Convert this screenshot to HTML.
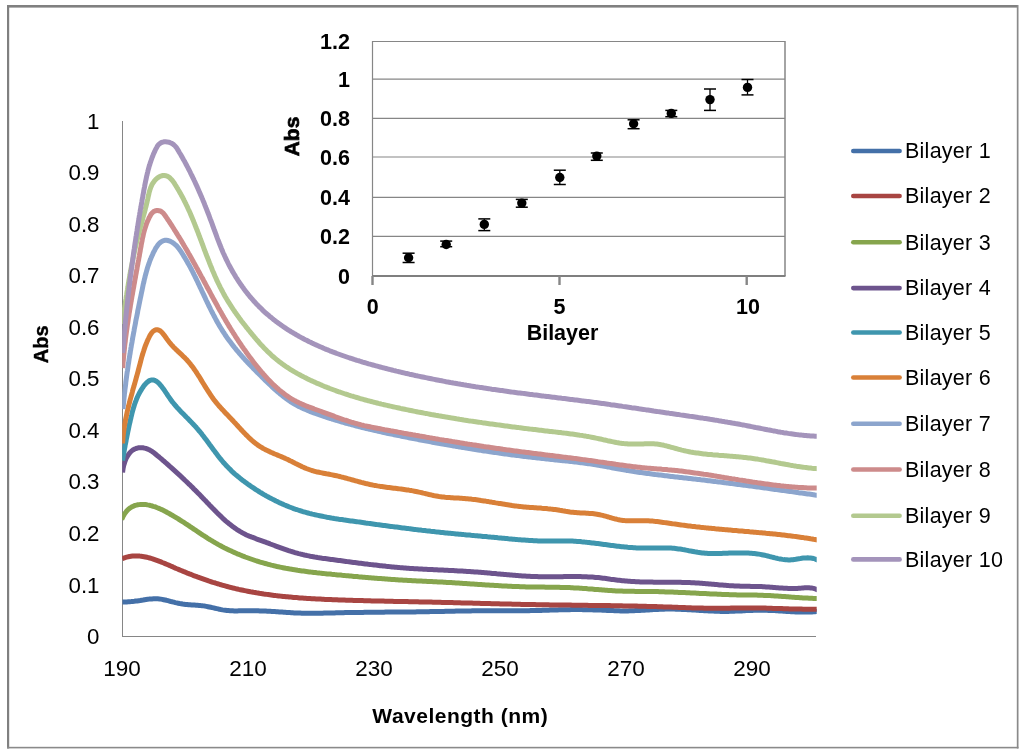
<!DOCTYPE html>
<html><head><meta charset="utf-8"><title>Chart</title>
<style>html,body{margin:0;padding:0;background:#fff;}body{width:1024px;height:752px;overflow:hidden;font-family:"Liberation Sans",sans-serif;}svg{display:block;will-change:transform;}</style>
</head><body>
<svg width="1024" height="752" viewBox="0 0 1024 752">
<defs><clipPath id="pa"><rect x="122.2" y="100" width="694.5" height="537"/></clipPath></defs>
<rect x="0" y="0" width="1024" height="752" fill="#fff"/>
<rect x="7" y="5" width="1011" height="2.6" fill="#808080"/>
<rect x="7" y="5" width="2.2" height="743.5" fill="#808080"/>
<rect x="1016.8" y="5" width="1.7" height="743.5" fill="#8a8a8a"/>
<rect x="7" y="746.8" width="1011.5" height="1.6" fill="#8a8a8a"/>
<line x1="122.5" y1="121" x2="122.5" y2="636.5" stroke="#868686" stroke-width="1"/>
<line x1="122" y1="636.5" x2="816" y2="636.5" stroke="#868686" stroke-width="1"/>
<text x="99.5" y="644.0" text-anchor="end" font-size="22.3" font-family="Liberation Sans, sans-serif" fill="#000">0</text>
<text x="99.5" y="592.5" text-anchor="end" font-size="22.3" font-family="Liberation Sans, sans-serif" fill="#000">0.1</text>
<text x="99.5" y="540.9" text-anchor="end" font-size="22.3" font-family="Liberation Sans, sans-serif" fill="#000">0.2</text>
<text x="99.5" y="489.4" text-anchor="end" font-size="22.3" font-family="Liberation Sans, sans-serif" fill="#000">0.3</text>
<text x="99.5" y="437.8" text-anchor="end" font-size="22.3" font-family="Liberation Sans, sans-serif" fill="#000">0.4</text>
<text x="99.5" y="386.2" text-anchor="end" font-size="22.3" font-family="Liberation Sans, sans-serif" fill="#000">0.5</text>
<text x="99.5" y="334.7" text-anchor="end" font-size="22.3" font-family="Liberation Sans, sans-serif" fill="#000">0.6</text>
<text x="99.5" y="283.2" text-anchor="end" font-size="22.3" font-family="Liberation Sans, sans-serif" fill="#000">0.7</text>
<text x="99.5" y="231.6" text-anchor="end" font-size="22.3" font-family="Liberation Sans, sans-serif" fill="#000">0.8</text>
<text x="99.5" y="180.1" text-anchor="end" font-size="22.3" font-family="Liberation Sans, sans-serif" fill="#000">0.9</text>
<text x="99.5" y="128.5" text-anchor="end" font-size="22.3" font-family="Liberation Sans, sans-serif" fill="#000">1</text>
<text x="122.0" y="676.3" text-anchor="middle" font-size="22.5" font-family="Liberation Sans, sans-serif" fill="#000">190</text>
<text x="248.0" y="676.3" text-anchor="middle" font-size="22.5" font-family="Liberation Sans, sans-serif" fill="#000">210</text>
<text x="374.0" y="676.3" text-anchor="middle" font-size="22.5" font-family="Liberation Sans, sans-serif" fill="#000">230</text>
<text x="500.0" y="676.3" text-anchor="middle" font-size="22.5" font-family="Liberation Sans, sans-serif" fill="#000">250</text>
<text x="626.0" y="676.3" text-anchor="middle" font-size="22.5" font-family="Liberation Sans, sans-serif" fill="#000">270</text>
<text x="752.0" y="676.3" text-anchor="middle" font-size="22.5" font-family="Liberation Sans, sans-serif" fill="#000">290</text>
<text x="460.3" y="722.8" text-anchor="middle" font-size="21" letter-spacing="0.5" font-weight="bold" font-family="Liberation Sans, sans-serif" fill="#000">Wavelength (nm)</text>
<text transform="translate(47.5,344.3) rotate(-90)" x="0" y="0" text-anchor="middle" font-size="20" font-weight="bold" font-family="Liberation Sans, sans-serif" fill="#000" stroke="#000" stroke-width="0.4">Abs</text>
<g clip-path="url(#pa)" fill="none" stroke-width="5.0" stroke-linejoin="round" stroke-linecap="butt">
<path d="M122.3 601.9 L123.8 601.9 L125.3 601.9 L126.8 601.9 L128.3 601.8 L129.8 601.7 L131.3 601.6 L132.8 601.4 L134.2 601.3 L135.7 601.1 L137.2 600.9 L138.7 600.7 L140.2 600.5 L141.7 600.2 L143.1 600.0 L144.6 599.7 L146.1 599.5 L147.6 599.3 L149.0 599.1 L150.5 599.0 L152.0 598.9 L153.4 598.8 L154.9 598.8 L156.3 598.8 L157.8 598.8 L159.3 598.9 L160.7 599.1 L162.2 599.4 L163.6 599.7 L165.1 600.0 L166.5 600.3 L168.0 600.7 L169.4 601.1 L170.9 601.5 L172.3 601.8 L173.8 602.2 L175.3 602.6 L176.7 602.9 L178.2 603.2 L179.7 603.5 L181.2 603.7 L182.6 604.0 L184.1 604.2 L185.6 604.4 L187.1 604.5 L188.6 604.7 L190.1 604.8 L191.6 604.9 L193.1 605.0 L194.6 605.1 L196.0 605.2 L197.5 605.3 L199.0 605.4 L200.5 605.6 L202.0 605.7 L203.4 605.9 L204.9 606.1 L206.4 606.4 L207.9 606.7 L209.3 607.0 L210.8 607.3 L212.2 607.6 L213.7 607.9 L215.1 608.3 L216.6 608.6 L218.1 608.9 L219.5 609.3 L221.0 609.6 L222.5 609.9 L223.9 610.1 L225.4 610.3 L226.9 610.5 L228.4 610.6 L229.9 610.7 L231.3 610.8 L232.8 610.8 L234.3 610.9 L235.8 610.9 L237.3 610.9 L238.8 610.8 L240.3 610.8 L241.8 610.8 L243.3 610.8 L244.8 610.8 L246.3 610.8 L247.8 610.8 L249.3 610.7 L250.8 610.8 L252.3 610.8 L253.8 610.8 L255.3 610.8 L256.8 610.8 L258.3 610.8 L259.8 610.9 L261.3 610.9 L262.8 611.0 L264.3 611.0 L265.8 611.1 L267.3 611.2 L268.8 611.2 L270.3 611.3 L271.8 611.4 L273.3 611.5 L274.8 611.6 L276.3 611.7 L277.8 611.8 L279.2 611.9 L280.7 612.0 L282.2 612.1 L283.7 612.2 L285.2 612.3 L286.7 612.4 L288.2 612.5 L289.7 612.6 L291.2 612.7 L292.7 612.8 L294.2 612.9 L295.7 613.0 L297.2 613.0 L298.7 613.1 L300.2 613.1 L301.7 613.2 L303.2 613.2 L304.7 613.2 L306.2 613.3 L307.7 613.3 L309.2 613.3 L310.6 613.3 L312.1 613.3 L313.6 613.3 L315.1 613.3 L316.6 613.3 L318.1 613.2 L319.6 613.2 L321.1 613.2 L322.6 613.2 L324.1 613.1 L325.6 613.1 L327.1 613.1 L328.6 613.0 L330.1 613.0 L331.6 612.9 L333.1 612.9 L334.6 612.9 L336.1 612.8 L337.6 612.8 L339.1 612.8 L340.6 612.7 L342.1 612.7 L343.6 612.7 L345.1 612.6 L346.6 612.6 L348.1 612.6 L349.6 612.6 L351.1 612.5 L352.6 612.5 L354.1 612.5 L355.6 612.5 L357.1 612.4 L358.6 612.4 L360.1 612.4 L361.6 612.4 L363.1 612.4 L364.5 612.3 L366.0 612.3 L367.5 612.3 L369.0 612.3 L370.5 612.3 L372.0 612.3 L373.5 612.2 L375.0 612.2 L376.5 612.2 L378.0 612.2 L379.5 612.2 L381.0 612.2 L382.5 612.2 L384.0 612.2 L385.5 612.1 L387.0 612.1 L388.5 612.1 L390.0 612.1 L391.5 612.1 L393.0 612.1 L394.5 612.1 L396.0 612.1 L397.5 612.0 L399.0 612.0 L400.5 612.0 L402.0 612.0 L403.5 612.0 L405.0 612.0 L406.5 612.0 L408.0 611.9 L409.5 611.9 L411.0 611.9 L412.4 611.9 L413.9 611.9 L415.4 611.9 L416.9 611.8 L418.4 611.8 L419.9 611.8 L421.4 611.8 L422.9 611.8 L424.4 611.7 L425.9 611.7 L427.4 611.7 L428.9 611.7 L430.4 611.6 L431.9 611.6 L433.4 611.6 L434.9 611.6 L436.4 611.5 L437.9 611.5 L439.4 611.5 L440.9 611.4 L442.4 611.4 L443.9 611.4 L445.4 611.3 L446.9 611.3 L448.4 611.3 L449.9 611.2 L451.4 611.2 L452.9 611.2 L454.4 611.2 L455.9 611.1 L457.3 611.1 L458.8 611.1 L460.3 611.0 L461.8 611.0 L463.3 611.0 L464.8 610.9 L466.3 610.9 L467.8 610.9 L469.3 610.9 L470.8 610.9 L472.3 610.8 L473.8 610.8 L475.3 610.8 L476.8 610.8 L478.3 610.8 L479.8 610.7 L481.3 610.7 L482.8 610.7 L484.3 610.7 L485.8 610.7 L487.3 610.7 L488.8 610.7 L490.3 610.7 L491.8 610.7 L493.3 610.7 L494.8 610.7 L496.3 610.7 L497.8 610.7 L499.3 610.7 L500.8 610.7 L502.3 610.7 L503.8 610.7 L505.3 610.7 L506.7 610.7 L508.2 610.7 L509.7 610.7 L511.2 610.8 L512.7 610.8 L514.2 610.8 L515.7 610.8 L517.2 610.8 L518.7 610.8 L520.2 610.7 L521.7 610.7 L523.2 610.7 L524.7 610.7 L526.2 610.7 L527.7 610.7 L529.2 610.7 L530.7 610.6 L532.2 610.6 L533.7 610.6 L535.2 610.6 L536.7 610.5 L538.2 610.5 L539.7 610.4 L541.2 610.4 L542.7 610.3 L544.2 610.3 L545.7 610.3 L547.2 610.2 L548.7 610.2 L550.2 610.1 L551.7 610.1 L553.2 610.0 L554.7 610.0 L556.1 609.9 L557.6 609.9 L559.1 609.8 L560.6 609.8 L562.1 609.8 L563.6 609.7 L565.1 609.7 L566.6 609.7 L568.1 609.7 L569.6 609.7 L571.1 609.6 L572.6 609.6 L574.1 609.6 L575.6 609.6 L577.1 609.6 L578.6 609.6 L580.1 609.6 L581.6 609.6 L583.1 609.7 L584.6 609.7 L586.1 609.7 L587.6 609.7 L589.1 609.7 L590.6 609.8 L592.1 609.8 L593.6 609.9 L595.1 609.9 L596.6 610.0 L598.1 610.0 L599.6 610.1 L601.1 610.1 L602.6 610.2 L604.1 610.3 L605.6 610.3 L607.1 610.4 L608.6 610.5 L610.0 610.5 L611.5 610.6 L613.0 610.6 L614.5 610.7 L616.0 610.7 L617.5 610.8 L619.0 610.8 L620.5 610.9 L622.0 610.9 L623.5 610.9 L625.0 610.9 L626.5 610.9 L628.0 610.9 L629.5 610.8 L631.0 610.8 L632.5 610.8 L634.0 610.7 L635.5 610.6 L637.0 610.6 L638.5 610.5 L640.0 610.4 L641.5 610.3 L643.0 610.3 L644.5 610.2 L646.0 610.1 L647.5 610.0 L648.9 609.9 L650.4 609.8 L651.9 609.7 L653.4 609.6 L654.9 609.6 L656.4 609.5 L657.9 609.4 L659.4 609.3 L660.9 609.3 L662.4 609.2 L663.9 609.2 L665.4 609.1 L666.9 609.1 L668.4 609.1 L669.9 609.1 L671.4 609.1 L672.9 609.1 L674.4 609.1 L675.9 609.2 L677.4 609.2 L678.9 609.3 L680.4 609.3 L681.9 609.4 L683.4 609.4 L684.8 609.5 L686.3 609.6 L687.8 609.7 L689.3 609.8 L690.8 609.8 L692.3 609.9 L693.8 610.0 L695.3 610.1 L696.8 610.2 L698.3 610.3 L699.8 610.4 L701.3 610.5 L702.8 610.6 L704.3 610.7 L705.8 610.8 L707.3 610.8 L708.8 610.9 L710.3 611.0 L711.8 611.1 L713.3 611.1 L714.8 611.2 L716.3 611.3 L717.8 611.3 L719.3 611.3 L720.8 611.4 L722.3 611.4 L723.8 611.4 L725.2 611.4 L726.7 611.4 L728.2 611.4 L729.7 611.3 L731.2 611.3 L732.7 611.3 L734.2 611.2 L735.7 611.1 L737.2 611.1 L738.7 611.0 L740.2 610.9 L741.7 610.9 L743.2 610.8 L744.7 610.7 L746.2 610.6 L747.7 610.6 L749.2 610.5 L750.7 610.4 L752.2 610.4 L753.7 610.3 L755.2 610.3 L756.7 610.3 L758.2 610.2 L759.7 610.2 L761.2 610.2 L762.7 610.2 L764.2 610.2 L765.7 610.3 L767.1 610.3 L768.6 610.4 L770.1 610.4 L771.6 610.5 L773.1 610.6 L774.6 610.6 L776.1 610.7 L777.6 610.8 L779.1 610.9 L780.6 611.0 L782.1 611.1 L783.6 611.2 L785.1 611.3 L786.6 611.4 L788.1 611.5 L789.6 611.6 L791.1 611.7 L792.6 611.8 L794.1 611.8 L795.6 611.9 L797.1 612.0 L798.6 612.0 L800.1 612.0 L801.6 612.1 L803.0 612.1 L804.5 612.1 L806.0 612.1 L807.5 612.1 L809.0 612.0 L810.5 612.0 L812.0 611.9 L813.5 611.8 L815.0 611.7 L816.5 611.6 L818.0 611.4" stroke="#4470A8"/>
<path d="M122.1 558.7 L123.6 558.1 L125.1 557.6 L126.6 557.2 L128.1 556.8 L129.6 556.5 L131.0 556.3 L132.5 556.1 L134.0 556.0 L135.4 556.0 L136.9 556.0 L138.3 556.0 L139.8 556.1 L141.2 556.3 L142.6 556.5 L144.1 556.7 L145.5 557.0 L146.9 557.3 L148.3 557.6 L149.7 558.0 L151.1 558.4 L152.6 558.8 L154.0 559.3 L155.4 559.8 L156.8 560.3 L158.2 560.8 L159.5 561.3 L160.9 561.9 L162.3 562.5 L163.7 563.0 L165.1 563.6 L166.5 564.2 L167.9 564.8 L169.3 565.4 L170.7 566.0 L172.1 566.6 L173.5 567.3 L174.9 567.9 L176.2 568.5 L177.6 569.0 L179.0 569.6 L180.4 570.2 L181.8 570.8 L183.2 571.4 L184.6 571.9 L186.0 572.5 L187.4 573.1 L188.8 573.6 L190.2 574.2 L191.6 574.7 L193.0 575.3 L194.4 575.8 L195.9 576.3 L197.3 576.9 L198.7 577.4 L200.1 577.9 L201.5 578.4 L202.9 578.9 L204.3 579.4 L205.8 579.9 L207.2 580.4 L208.6 580.9 L210.0 581.3 L211.4 581.8 L212.9 582.3 L214.3 582.7 L215.7 583.2 L217.1 583.6 L218.6 584.0 L220.0 584.5 L221.4 584.9 L222.9 585.3 L224.3 585.7 L225.8 586.1 L227.2 586.5 L228.6 586.9 L230.1 587.3 L231.5 587.6 L233.0 588.0 L234.4 588.3 L235.9 588.7 L237.3 589.0 L238.8 589.4 L240.3 589.7 L241.7 590.0 L243.2 590.3 L244.6 590.6 L246.1 590.9 L247.6 591.2 L249.0 591.5 L250.5 591.8 L252.0 592.0 L253.4 592.3 L254.9 592.5 L256.4 592.8 L257.9 593.0 L259.3 593.3 L260.8 593.5 L262.3 593.7 L263.8 594.0 L265.3 594.2 L266.7 594.4 L268.2 594.6 L269.7 594.8 L271.2 595.0 L272.7 595.2 L274.2 595.4 L275.7 595.6 L277.1 595.7 L278.6 595.9 L280.1 596.1 L281.6 596.2 L283.1 596.4 L284.6 596.5 L286.1 596.7 L287.6 596.8 L289.1 597.0 L290.6 597.1 L292.1 597.2 L293.6 597.4 L295.1 597.5 L296.6 597.6 L298.1 597.7 L299.6 597.9 L301.1 598.0 L302.6 598.1 L304.1 598.2 L305.6 598.3 L307.1 598.4 L308.6 598.5 L310.1 598.6 L311.6 598.7 L313.1 598.7 L314.6 598.8 L316.1 598.9 L317.6 599.0 L319.1 599.1 L320.6 599.1 L322.1 599.2 L323.6 599.3 L325.1 599.4 L326.6 599.4 L328.1 599.5 L329.6 599.5 L331.1 599.6 L332.6 599.7 L334.1 599.7 L335.6 599.8 L337.1 599.8 L338.6 599.9 L340.1 600.0 L341.6 600.0 L343.1 600.1 L344.6 600.1 L346.1 600.2 L347.6 600.2 L349.1 600.3 L350.6 600.3 L352.1 600.3 L353.6 600.4 L355.1 600.4 L356.6 600.5 L358.1 600.5 L359.6 600.6 L361.1 600.6 L362.6 600.6 L364.1 600.7 L365.6 600.7 L367.1 600.8 L368.6 600.8 L370.1 600.8 L371.6 600.9 L373.1 600.9 L374.6 600.9 L376.1 601.0 L377.6 601.0 L379.1 601.0 L380.6 601.1 L382.0 601.1 L383.5 601.1 L385.0 601.2 L386.5 601.2 L388.0 601.2 L389.5 601.3 L391.0 601.3 L392.5 601.3 L394.0 601.4 L395.5 601.4 L397.0 601.4 L398.5 601.4 L400.0 601.5 L401.5 601.5 L403.0 601.5 L404.5 601.6 L406.0 601.6 L407.5 601.6 L409.0 601.7 L410.5 601.7 L412.0 601.7 L413.5 601.7 L415.0 601.8 L416.5 601.8 L417.9 601.8 L419.4 601.9 L420.9 601.9 L422.4 601.9 L423.9 602.0 L425.4 602.0 L426.9 602.0 L428.4 602.1 L429.9 602.1 L431.4 602.1 L432.9 602.2 L434.4 602.2 L435.9 602.2 L437.4 602.3 L438.9 602.3 L440.4 602.3 L441.9 602.4 L443.4 602.4 L444.9 602.4 L446.4 602.5 L447.9 602.5 L449.4 602.6 L450.9 602.6 L452.4 602.6 L453.9 602.7 L455.4 602.7 L456.9 602.8 L458.4 602.8 L459.9 602.8 L461.4 602.9 L462.9 602.9 L464.4 602.9 L465.9 603.0 L467.4 603.0 L468.9 603.1 L470.4 603.1 L471.9 603.1 L473.4 603.2 L474.9 603.2 L476.4 603.3 L477.9 603.3 L479.4 603.3 L480.9 603.4 L482.4 603.4 L483.9 603.5 L485.4 603.5 L486.9 603.5 L488.4 603.6 L489.9 603.6 L491.4 603.7 L492.9 603.7 L494.4 603.7 L495.9 603.8 L497.4 603.8 L498.9 603.8 L500.4 603.9 L501.9 603.9 L503.4 604.0 L504.9 604.0 L506.4 604.0 L507.9 604.1 L509.4 604.1 L510.9 604.1 L512.4 604.2 L513.9 604.2 L515.4 604.2 L516.9 604.3 L518.4 604.3 L519.9 604.3 L521.4 604.4 L522.9 604.4 L524.4 604.4 L525.9 604.5 L527.4 604.5 L528.9 604.5 L530.4 604.5 L531.9 604.6 L533.4 604.6 L534.9 604.6 L536.4 604.7 L537.9 604.7 L539.4 604.7 L540.9 604.7 L542.4 604.8 L543.9 604.8 L545.4 604.8 L546.9 604.8 L548.4 604.8 L549.9 604.9 L551.4 604.9 L552.9 604.9 L554.4 604.9 L555.9 605.0 L557.3 605.0 L558.8 605.0 L560.3 605.0 L561.8 605.0 L563.3 605.0 L564.8 605.1 L566.3 605.1 L567.8 605.1 L569.3 605.1 L570.8 605.1 L572.3 605.2 L573.8 605.2 L575.3 605.2 L576.8 605.2 L578.3 605.2 L579.8 605.3 L581.3 605.3 L582.8 605.3 L584.3 605.3 L585.8 605.3 L587.3 605.3 L588.8 605.4 L590.3 605.4 L591.8 605.4 L593.3 605.4 L594.8 605.4 L596.3 605.5 L597.8 605.5 L599.3 605.5 L600.8 605.5 L602.3 605.5 L603.8 605.6 L605.3 605.6 L606.8 605.6 L608.3 605.6 L609.8 605.6 L611.3 605.7 L612.8 605.7 L614.3 605.7 L615.8 605.7 L617.3 605.8 L618.8 605.8 L620.3 605.8 L621.8 605.8 L623.3 605.9 L624.8 605.9 L626.3 605.9 L627.8 605.9 L629.3 606.0 L630.8 606.0 L632.3 606.0 L633.8 606.1 L635.3 606.1 L636.8 606.1 L638.3 606.2 L639.8 606.2 L641.3 606.2 L642.8 606.3 L644.3 606.3 L645.8 606.3 L647.3 606.4 L648.8 606.4 L650.3 606.5 L651.8 606.5 L653.3 606.5 L654.8 606.6 L656.3 606.6 L657.7 606.7 L659.2 606.7 L660.7 606.8 L662.2 606.8 L663.7 606.9 L665.2 606.9 L666.7 607.0 L668.2 607.0 L669.7 607.1 L671.2 607.1 L672.7 607.2 L674.2 607.2 L675.7 607.3 L677.2 607.3 L678.7 607.4 L680.2 607.4 L681.7 607.5 L683.2 607.5 L684.7 607.6 L686.2 607.7 L687.7 607.7 L689.2 607.8 L690.7 607.8 L692.2 607.9 L693.7 607.9 L695.2 607.9 L696.7 608.0 L698.2 608.0 L699.7 608.1 L701.2 608.1 L702.7 608.1 L704.2 608.2 L705.7 608.2 L707.2 608.2 L708.7 608.2 L710.2 608.3 L711.7 608.3 L713.1 608.3 L714.6 608.3 L716.1 608.3 L717.6 608.3 L719.1 608.3 L720.6 608.3 L722.1 608.3 L723.6 608.2 L725.1 608.2 L726.6 608.2 L728.1 608.2 L729.6 608.2 L731.1 608.1 L732.6 608.1 L734.1 608.1 L735.6 608.1 L737.1 608.0 L738.6 608.0 L740.1 608.0 L741.6 608.0 L743.1 608.0 L744.6 607.9 L746.1 607.9 L747.6 607.9 L749.1 607.9 L750.6 607.9 L752.1 607.9 L753.6 607.9 L755.1 608.0 L756.6 608.0 L758.1 608.0 L759.6 608.0 L761.0 608.0 L762.5 608.1 L764.0 608.1 L765.5 608.1 L767.0 608.2 L768.5 608.2 L770.0 608.3 L771.5 608.3 L773.0 608.4 L774.5 608.4 L776.0 608.4 L777.5 608.5 L779.0 608.5 L780.5 608.6 L782.0 608.6 L783.5 608.7 L785.0 608.7 L786.5 608.8 L788.0 608.8 L789.5 608.9 L791.0 608.9 L792.5 608.9 L794.0 609.0 L795.5 609.0 L797.0 609.1 L798.5 609.1 L800.0 609.1 L801.5 609.1 L803.0 609.2 L804.5 609.2 L806.0 609.2 L807.5 609.2 L809.0 609.2 L810.5 609.2 L812.0 609.2 L813.5 609.2 L815.0 609.2 L816.5 609.2 L818.0 609.2" stroke="#A84542"/>
<path d="M121.7 519.5 L122.5 517.8 L123.2 516.1 L124.1 514.6 L125.0 513.2 L126.0 511.9 L127.0 510.7 L128.0 509.6 L129.1 508.7 L130.3 507.8 L131.5 507.1 L132.7 506.5 L133.9 505.9 L135.2 505.4 L136.5 505.1 L137.8 504.8 L139.2 504.6 L140.6 504.4 L141.9 504.4 L143.3 504.4 L144.7 504.5 L146.1 504.6 L147.5 504.9 L148.9 505.1 L150.4 505.5 L151.8 505.8 L153.2 506.3 L154.6 506.7 L156.0 507.2 L157.4 507.8 L158.9 508.4 L160.3 509.0 L161.7 509.6 L163.1 510.3 L164.5 511.0 L165.9 511.7 L167.2 512.5 L168.6 513.2 L170.0 514.0 L171.3 514.8 L172.6 515.5 L174.0 516.3 L175.3 517.1 L176.6 517.9 L177.9 518.7 L179.2 519.5 L180.5 520.3 L181.7 521.1 L183.0 521.9 L184.3 522.7 L185.5 523.6 L186.8 524.4 L188.0 525.2 L189.3 526.0 L190.5 526.9 L191.7 527.7 L193.0 528.5 L194.2 529.4 L195.5 530.2 L196.7 531.0 L197.9 531.8 L199.1 532.7 L200.4 533.5 L201.6 534.3 L202.8 535.1 L204.1 535.9 L205.3 536.7 L206.6 537.5 L207.8 538.3 L209.1 539.1 L210.3 539.9 L211.6 540.6 L212.9 541.4 L214.1 542.1 L215.4 542.9 L216.7 543.6 L218.0 544.4 L219.3 545.1 L220.6 545.8 L221.9 546.5 L223.3 547.2 L224.6 547.9 L225.9 548.5 L227.3 549.2 L228.6 549.9 L230.0 550.5 L231.3 551.1 L232.7 551.8 L234.1 552.4 L235.5 553.0 L236.8 553.6 L238.2 554.2 L239.6 554.7 L241.0 555.3 L242.4 555.9 L243.8 556.4 L245.2 557.0 L246.7 557.5 L248.1 558.0 L249.5 558.5 L250.9 559.0 L252.4 559.5 L253.8 560.0 L255.2 560.5 L256.7 561.0 L258.1 561.4 L259.5 561.9 L261.0 562.3 L262.4 562.7 L263.9 563.1 L265.3 563.5 L266.8 563.9 L268.2 564.3 L269.7 564.7 L271.2 565.1 L272.6 565.4 L274.1 565.8 L275.5 566.1 L277.0 566.5 L278.5 566.8 L279.9 567.1 L281.4 567.4 L282.9 567.7 L284.3 568.0 L285.8 568.3 L287.3 568.5 L288.7 568.8 L290.2 569.1 L291.7 569.3 L293.1 569.6 L294.6 569.8 L296.1 570.0 L297.6 570.3 L299.0 570.5 L300.5 570.7 L302.0 570.9 L303.5 571.1 L304.9 571.3 L306.4 571.5 L307.9 571.7 L309.4 571.9 L310.9 572.1 L312.3 572.2 L313.8 572.4 L315.3 572.6 L316.8 572.8 L318.3 572.9 L319.8 573.1 L321.2 573.2 L322.7 573.4 L324.2 573.6 L325.7 573.7 L327.2 573.9 L328.7 574.0 L330.2 574.1 L331.7 574.3 L333.1 574.4 L334.6 574.6 L336.1 574.7 L337.6 574.9 L339.1 575.0 L340.6 575.1 L342.1 575.3 L343.6 575.4 L345.1 575.6 L346.6 575.7 L348.1 575.8 L349.6 576.0 L351.1 576.1 L352.5 576.2 L354.0 576.4 L355.5 576.5 L357.0 576.6 L358.5 576.8 L360.0 576.9 L361.5 577.0 L363.0 577.2 L364.5 577.3 L366.0 577.4 L367.5 577.5 L369.0 577.7 L370.5 577.8 L372.0 577.9 L373.5 578.0 L375.0 578.2 L376.5 578.3 L378.0 578.4 L379.5 578.5 L381.0 578.6 L382.5 578.7 L384.0 578.8 L385.5 579.0 L387.0 579.1 L388.5 579.2 L390.0 579.3 L391.5 579.4 L393.0 579.5 L394.5 579.6 L396.0 579.7 L397.4 579.8 L398.9 579.9 L400.4 580.0 L401.9 580.1 L403.4 580.2 L404.9 580.2 L406.4 580.3 L407.9 580.4 L409.4 580.5 L410.9 580.6 L412.4 580.7 L413.9 580.7 L415.4 580.8 L416.9 580.9 L418.4 581.0 L419.9 581.0 L421.4 581.1 L422.9 581.2 L424.4 581.3 L425.9 581.3 L427.4 581.4 L428.9 581.5 L430.4 581.6 L431.9 581.6 L433.3 581.7 L434.8 581.8 L436.3 581.8 L437.8 581.9 L439.3 582.0 L440.8 582.1 L442.3 582.1 L443.8 582.2 L445.3 582.3 L446.8 582.4 L448.3 582.5 L449.8 582.6 L451.3 582.6 L452.8 582.7 L454.3 582.8 L455.8 582.9 L457.3 583.0 L458.8 583.1 L460.3 583.2 L461.8 583.3 L463.2 583.4 L464.7 583.5 L466.2 583.6 L467.7 583.7 L469.2 583.8 L470.7 583.9 L472.2 584.0 L473.7 584.1 L475.2 584.2 L476.7 584.3 L478.2 584.4 L479.7 584.5 L481.2 584.6 L482.7 584.7 L484.2 584.8 L485.7 584.9 L487.2 585.0 L488.7 585.1 L490.2 585.2 L491.7 585.3 L493.2 585.3 L494.7 585.4 L496.2 585.5 L497.7 585.6 L499.2 585.7 L500.7 585.8 L502.2 585.9 L503.7 586.0 L505.1 586.0 L506.6 586.1 L508.1 586.2 L509.6 586.3 L511.1 586.3 L512.6 586.4 L514.1 586.5 L515.6 586.5 L517.1 586.6 L518.6 586.6 L520.1 586.7 L521.6 586.8 L523.1 586.8 L524.6 586.8 L526.1 586.9 L527.6 586.9 L529.1 586.9 L530.6 587.0 L532.1 587.0 L533.6 587.0 L535.1 587.0 L536.6 587.1 L538.1 587.1 L539.6 587.1 L541.1 587.1 L542.6 587.1 L544.1 587.1 L545.6 587.2 L547.1 587.2 L548.6 587.2 L550.1 587.2 L551.6 587.2 L553.1 587.2 L554.6 587.3 L556.1 587.3 L557.6 587.3 L559.1 587.3 L560.6 587.4 L562.1 587.4 L563.6 587.4 L565.1 587.5 L566.6 587.5 L568.1 587.6 L569.6 587.6 L571.1 587.7 L572.6 587.8 L574.1 587.9 L575.6 587.9 L577.0 588.0 L578.5 588.1 L580.0 588.2 L581.5 588.3 L583.0 588.4 L584.5 588.5 L586.0 588.6 L587.5 588.8 L589.0 588.9 L590.5 589.0 L592.0 589.1 L593.5 589.2 L595.0 589.4 L596.5 589.5 L598.0 589.6 L599.5 589.7 L601.0 589.8 L602.5 590.0 L604.0 590.1 L605.4 590.2 L606.9 590.3 L608.4 590.4 L609.9 590.5 L611.4 590.6 L612.9 590.7 L614.4 590.8 L615.9 590.9 L617.4 590.9 L618.9 591.0 L620.4 591.1 L621.9 591.1 L623.4 591.2 L624.9 591.2 L626.4 591.2 L627.9 591.3 L629.4 591.3 L630.9 591.3 L632.4 591.3 L633.9 591.3 L635.4 591.4 L636.9 591.4 L638.4 591.4 L639.9 591.4 L641.4 591.4 L642.9 591.4 L644.4 591.4 L645.9 591.4 L647.4 591.4 L648.9 591.5 L650.4 591.5 L651.9 591.5 L653.4 591.5 L654.9 591.6 L656.4 591.6 L657.9 591.6 L659.4 591.7 L660.9 591.7 L662.4 591.8 L663.9 591.8 L665.3 591.9 L666.8 591.9 L668.3 592.0 L669.8 592.0 L671.3 592.1 L672.8 592.1 L674.3 592.2 L675.8 592.2 L677.3 592.3 L678.8 592.4 L680.3 592.4 L681.8 592.5 L683.3 592.6 L684.8 592.6 L686.3 592.7 L687.8 592.8 L689.3 592.8 L690.8 592.9 L692.3 593.0 L693.8 593.1 L695.3 593.1 L696.8 593.2 L698.3 593.3 L699.8 593.4 L701.3 593.4 L702.8 593.5 L704.3 593.6 L705.8 593.6 L707.2 593.7 L708.7 593.8 L710.2 593.9 L711.7 593.9 L713.2 594.0 L714.7 594.1 L716.2 594.1 L717.7 594.2 L719.2 594.3 L720.7 594.3 L722.2 594.4 L723.7 594.4 L725.2 594.5 L726.7 594.6 L728.2 594.6 L729.7 594.7 L731.2 594.7 L732.7 594.7 L734.2 594.8 L735.7 594.8 L737.2 594.9 L738.7 594.9 L740.2 594.9 L741.7 594.9 L743.2 595.0 L744.7 595.0 L746.1 595.0 L747.6 595.0 L749.1 595.0 L750.6 595.0 L752.1 595.1 L753.6 595.1 L755.1 595.1 L756.6 595.1 L758.1 595.2 L759.6 595.2 L761.1 595.3 L762.6 595.3 L764.1 595.4 L765.6 595.4 L767.1 595.5 L768.6 595.6 L770.1 595.6 L771.6 595.7 L773.1 595.8 L774.6 595.9 L776.1 596.0 L777.6 596.1 L779.1 596.2 L780.6 596.3 L782.1 596.4 L783.6 596.5 L785.1 596.6 L786.6 596.7 L788.1 596.8 L789.6 596.9 L791.1 597.1 L792.5 597.2 L794.0 597.3 L795.5 597.4 L797.0 597.5 L798.5 597.6 L800.0 597.7 L801.5 597.8 L803.0 597.9 L804.5 598.0 L806.0 598.0 L807.5 598.1 L809.0 598.2 L810.5 598.3 L812.0 598.3 L813.5 598.4 L815.0 598.5 L816.5 598.5 L818.0 598.5" stroke="#86A54D"/>
<path d="M122.6 472.6 L122.7 471.3 L122.9 469.9 L123.1 468.4 L123.4 467.0 L123.7 465.4 L124.2 463.9 L124.7 462.3 L125.2 460.8 L125.8 459.3 L126.5 457.8 L127.3 456.4 L128.2 455.0 L129.1 453.7 L130.0 452.5 L131.1 451.5 L132.2 450.5 L133.4 449.7 L134.7 449.0 L136.0 448.5 L137.3 448.1 L138.7 447.8 L140.1 447.7 L141.5 447.7 L142.9 447.8 L144.3 448.1 L145.7 448.4 L147.1 448.9 L148.5 449.5 L149.8 450.1 L151.1 450.9 L152.4 451.7 L153.6 452.6 L154.8 453.5 L156.0 454.5 L157.2 455.5 L158.4 456.4 L159.5 457.4 L160.7 458.4 L161.9 459.4 L163.0 460.4 L164.2 461.3 L165.3 462.3 L166.5 463.3 L167.6 464.3 L168.7 465.3 L169.8 466.3 L171.0 467.3 L172.1 468.3 L173.2 469.3 L174.3 470.3 L175.4 471.3 L176.5 472.3 L177.6 473.3 L178.7 474.3 L179.8 475.3 L180.9 476.4 L182.0 477.4 L183.0 478.4 L184.1 479.4 L185.2 480.5 L186.3 481.5 L187.3 482.5 L188.4 483.6 L189.5 484.6 L190.5 485.6 L191.6 486.7 L192.7 487.7 L193.7 488.8 L194.8 489.8 L195.8 490.9 L196.9 491.9 L197.9 493.0 L199.0 494.1 L200.0 495.1 L201.1 496.2 L202.1 497.3 L203.2 498.4 L204.2 499.5 L205.3 500.5 L206.3 501.6 L207.3 502.7 L208.4 503.8 L209.4 504.9 L210.5 506.0 L211.5 507.1 L212.6 508.2 L213.7 509.3 L214.7 510.4 L215.8 511.4 L216.8 512.5 L217.9 513.6 L219.0 514.6 L220.1 515.7 L221.2 516.7 L222.3 517.8 L223.4 518.8 L224.5 519.8 L225.6 520.8 L226.8 521.8 L227.9 522.7 L229.0 523.7 L230.2 524.6 L231.4 525.5 L232.6 526.4 L233.8 527.3 L235.0 528.2 L236.2 529.0 L237.4 529.8 L238.7 530.6 L239.9 531.4 L241.2 532.1 L242.5 532.9 L243.8 533.6 L245.1 534.2 L246.5 534.9 L247.8 535.5 L249.2 536.1 L250.6 536.6 L252.0 537.2 L253.4 537.7 L254.8 538.2 L256.2 538.8 L257.6 539.3 L259.0 539.8 L260.5 540.3 L261.9 540.8 L263.3 541.3 L264.7 541.8 L266.1 542.4 L267.5 542.9 L268.9 543.4 L270.3 544.0 L271.7 544.5 L273.1 545.0 L274.5 545.5 L275.9 546.1 L277.3 546.6 L278.7 547.1 L280.1 547.6 L281.5 548.1 L282.9 548.6 L284.3 549.1 L285.8 549.6 L287.2 550.1 L288.6 550.6 L290.0 551.0 L291.4 551.5 L292.8 551.9 L294.3 552.4 L295.7 552.8 L297.1 553.2 L298.6 553.6 L300.0 553.9 L301.5 554.3 L302.9 554.6 L304.4 555.0 L305.8 555.3 L307.3 555.6 L308.8 555.9 L310.2 556.2 L311.7 556.4 L313.2 556.7 L314.7 557.0 L316.2 557.2 L317.6 557.5 L319.1 557.7 L320.6 557.9 L322.1 558.2 L323.6 558.4 L325.1 558.6 L326.6 558.8 L328.1 559.0 L329.5 559.2 L331.0 559.4 L332.5 559.6 L334.0 559.8 L335.5 560.0 L337.0 560.2 L338.5 560.4 L340.0 560.6 L341.5 560.8 L343.0 561.0 L344.5 561.2 L346.0 561.4 L347.4 561.6 L348.9 561.8 L350.4 562.0 L351.9 562.2 L353.4 562.4 L354.9 562.6 L356.4 562.8 L357.9 563.0 L359.3 563.2 L360.8 563.3 L362.3 563.5 L363.8 563.7 L365.3 563.9 L366.8 564.1 L368.3 564.3 L369.8 564.4 L371.2 564.6 L372.7 564.8 L374.2 565.0 L375.7 565.1 L377.2 565.3 L378.7 565.5 L380.2 565.7 L381.6 565.8 L383.1 566.0 L384.6 566.1 L386.1 566.3 L387.6 566.4 L389.1 566.6 L390.6 566.7 L392.1 566.9 L393.6 567.0 L395.0 567.2 L396.5 567.3 L398.0 567.4 L399.5 567.6 L401.0 567.7 L402.5 567.8 L404.0 567.9 L405.5 568.0 L407.0 568.2 L408.5 568.3 L410.0 568.4 L411.5 568.5 L412.9 568.6 L414.4 568.7 L415.9 568.7 L417.4 568.8 L418.9 568.9 L420.4 569.0 L421.9 569.1 L423.4 569.2 L424.9 569.3 L426.4 569.3 L427.9 569.4 L429.4 569.5 L430.9 569.6 L432.4 569.6 L433.9 569.7 L435.4 569.8 L436.9 569.8 L438.4 569.9 L439.9 570.0 L441.4 570.1 L442.9 570.1 L444.4 570.2 L445.9 570.3 L447.4 570.3 L448.9 570.4 L450.4 570.5 L451.9 570.5 L453.4 570.6 L454.9 570.7 L456.4 570.8 L457.9 570.9 L459.4 570.9 L460.9 571.0 L462.4 571.1 L463.9 571.2 L465.4 571.3 L466.9 571.4 L468.4 571.5 L469.9 571.6 L471.4 571.7 L472.9 571.8 L474.4 571.9 L475.9 572.0 L477.4 572.1 L478.9 572.2 L480.4 572.3 L481.9 572.5 L483.4 572.6 L484.9 572.7 L486.4 572.8 L487.8 573.0 L489.3 573.1 L490.8 573.2 L492.3 573.4 L493.8 573.5 L495.3 573.6 L496.8 573.8 L498.3 573.9 L499.8 574.0 L501.3 574.2 L502.8 574.3 L504.3 574.5 L505.8 574.6 L507.3 574.7 L508.7 574.8 L510.2 575.0 L511.7 575.1 L513.2 575.2 L514.7 575.3 L516.2 575.5 L517.7 575.6 L519.2 575.7 L520.7 575.8 L522.2 575.9 L523.7 576.0 L525.2 576.1 L526.7 576.2 L528.2 576.3 L529.7 576.3 L531.1 576.4 L532.6 576.5 L534.1 576.5 L535.6 576.6 L537.1 576.6 L538.6 576.7 L540.1 576.7 L541.6 576.7 L543.1 576.8 L544.6 576.8 L546.1 576.8 L547.6 576.8 L549.1 576.8 L550.6 576.8 L552.1 576.8 L553.6 576.8 L555.1 576.8 L556.6 576.7 L558.1 576.7 L559.6 576.7 L561.1 576.7 L562.6 576.7 L564.1 576.6 L565.6 576.6 L567.1 576.6 L568.6 576.6 L570.1 576.6 L571.6 576.6 L573.1 576.6 L574.6 576.6 L576.1 576.6 L577.6 576.6 L579.1 576.6 L580.6 576.6 L582.1 576.7 L583.6 576.7 L585.1 576.8 L586.6 576.8 L588.1 576.9 L589.5 577.0 L591.0 577.0 L592.5 577.1 L594.0 577.2 L595.5 577.4 L597.0 577.5 L598.5 577.6 L600.0 577.8 L601.5 578.0 L603.0 578.2 L604.5 578.3 L606.0 578.5 L607.4 578.7 L608.9 578.9 L610.4 579.2 L611.9 579.4 L613.4 579.6 L614.9 579.8 L616.4 580.0 L617.9 580.2 L619.4 580.3 L620.8 580.5 L622.3 580.7 L623.8 580.8 L625.3 581.0 L626.8 581.1 L628.3 581.2 L629.8 581.3 L631.3 581.4 L632.8 581.5 L634.3 581.6 L635.8 581.7 L637.3 581.8 L638.8 581.8 L640.3 581.9 L641.8 581.9 L643.3 582.0 L644.8 582.0 L646.3 582.0 L647.8 582.1 L649.3 582.1 L650.8 582.1 L652.3 582.1 L653.8 582.2 L655.3 582.2 L656.8 582.2 L658.3 582.2 L659.8 582.2 L661.3 582.2 L662.8 582.2 L664.2 582.2 L665.7 582.2 L667.2 582.2 L668.7 582.2 L670.2 582.2 L671.7 582.2 L673.2 582.2 L674.7 582.2 L676.2 582.3 L677.7 582.3 L679.2 582.3 L680.7 582.3 L682.2 582.4 L683.7 582.4 L685.2 582.4 L686.7 582.5 L688.2 582.5 L689.7 582.6 L691.2 582.7 L692.7 582.8 L694.2 582.8 L695.7 582.9 L697.2 583.0 L698.7 583.1 L700.2 583.2 L701.7 583.3 L703.2 583.5 L704.6 583.6 L706.1 583.7 L707.6 583.8 L709.1 584.0 L710.6 584.1 L712.1 584.2 L713.6 584.3 L715.1 584.5 L716.6 584.6 L718.1 584.7 L719.6 584.9 L721.1 585.0 L722.5 585.1 L724.0 585.2 L725.5 585.3 L727.0 585.4 L728.5 585.6 L730.0 585.7 L731.5 585.7 L733.0 585.8 L734.5 585.9 L736.0 586.0 L737.5 586.1 L739.0 586.1 L740.5 586.2 L742.0 586.2 L743.5 586.2 L745.0 586.3 L746.5 586.3 L748.0 586.3 L749.5 586.3 L751.0 586.4 L752.5 586.4 L754.0 586.4 L755.5 586.4 L757.0 586.5 L758.5 586.5 L760.0 586.6 L761.5 586.6 L763.0 586.7 L764.5 586.8 L766.0 586.9 L767.5 587.0 L768.9 587.1 L770.4 587.2 L771.9 587.3 L773.4 587.5 L774.9 587.6 L776.4 587.7 L777.9 587.8 L779.3 587.9 L780.8 588.0 L782.3 588.1 L783.8 588.2 L785.3 588.3 L786.8 588.3 L788.3 588.4 L789.8 588.4 L791.2 588.5 L792.7 588.5 L794.2 588.5 L795.7 588.4 L797.2 588.4 L798.7 588.3 L800.2 588.2 L801.7 588.1 L803.2 587.9 L804.7 587.8 L806.2 587.8 L807.7 587.7 L809.1 587.8 L810.6 587.9 L812.1 588.1 L813.6 588.4 L815.1 588.8 L816.5 589.4 L818.0 590.1" stroke="#6D548D"/>
<path d="M122.5 460.5 L122.8 459.0 L123.0 457.5 L123.3 456.0 L123.6 454.5 L123.8 453.0 L124.1 451.5 L124.3 450.1 L124.6 448.6 L124.9 447.1 L125.1 445.6 L125.4 444.2 L125.7 442.7 L126.0 441.3 L126.2 439.8 L126.5 438.4 L126.8 436.9 L127.1 435.5 L127.4 434.0 L127.7 432.6 L128.0 431.1 L128.3 429.7 L128.6 428.2 L128.9 426.8 L129.2 425.3 L129.5 423.9 L129.9 422.4 L130.2 420.9 L130.5 419.5 L130.9 418.0 L131.2 416.6 L131.6 415.1 L131.9 413.7 L132.3 412.2 L132.7 410.7 L133.1 409.3 L133.5 407.8 L134.0 406.4 L134.4 404.9 L134.9 403.5 L135.4 402.1 L136.0 400.6 L136.5 399.2 L137.1 397.8 L137.7 396.4 L138.4 395.0 L139.1 393.6 L139.8 392.3 L140.6 390.9 L141.4 389.6 L142.2 388.3 L143.1 387.0 L144.0 385.7 L144.9 384.6 L145.9 383.5 L146.9 382.5 L148.0 381.6 L149.0 380.9 L150.1 380.4 L151.2 380.0 L152.3 379.9 L153.5 380.0 L154.6 380.3 L155.8 380.9 L156.9 381.6 L158.0 382.5 L159.2 383.6 L160.2 384.8 L161.3 386.1 L162.3 387.4 L163.3 388.7 L164.3 390.1 L165.2 391.5 L166.1 392.9 L167.0 394.2 L167.9 395.6 L168.8 396.9 L169.7 398.2 L170.6 399.5 L171.4 400.7 L172.3 401.8 L173.3 403.0 L174.2 404.1 L175.1 405.2 L176.1 406.3 L177.0 407.4 L178.0 408.4 L179.0 409.5 L180.0 410.6 L181.0 411.7 L182.0 412.7 L183.1 413.8 L184.1 414.8 L185.2 415.9 L186.2 417.0 L187.3 418.0 L188.3 419.1 L189.4 420.2 L190.4 421.3 L191.4 422.3 L192.5 423.4 L193.5 424.5 L194.5 425.6 L195.6 426.7 L196.6 427.9 L197.6 429.0 L198.5 430.1 L199.5 431.3 L200.5 432.4 L201.4 433.6 L202.3 434.8 L203.3 436.0 L204.2 437.2 L205.1 438.4 L206.0 439.6 L206.9 440.8 L207.8 442.0 L208.7 443.2 L209.5 444.4 L210.4 445.6 L211.3 446.8 L212.2 448.0 L213.1 449.2 L214.0 450.4 L214.9 451.7 L215.8 452.8 L216.7 454.0 L217.6 455.2 L218.5 456.4 L219.4 457.6 L220.3 458.7 L221.3 459.9 L222.2 461.0 L223.2 462.2 L224.2 463.3 L225.2 464.4 L226.2 465.5 L227.2 466.6 L228.2 467.6 L229.3 468.7 L230.4 469.7 L231.4 470.8 L232.5 471.8 L233.6 472.8 L234.7 473.8 L235.9 474.8 L237.0 475.7 L238.1 476.7 L239.3 477.6 L240.5 478.6 L241.6 479.5 L242.8 480.4 L244.0 481.3 L245.2 482.2 L246.4 483.1 L247.6 484.0 L248.9 484.9 L250.1 485.7 L251.3 486.6 L252.6 487.4 L253.8 488.2 L255.1 489.1 L256.3 489.9 L257.6 490.7 L258.9 491.5 L260.2 492.3 L261.4 493.0 L262.7 493.8 L264.0 494.6 L265.3 495.3 L266.6 496.1 L267.9 496.8 L269.2 497.5 L270.6 498.2 L271.9 498.9 L273.2 499.6 L274.6 500.3 L275.9 501.0 L277.2 501.6 L278.6 502.3 L279.9 502.9 L281.3 503.5 L282.7 504.1 L284.0 504.7 L285.4 505.3 L286.8 505.9 L288.2 506.4 L289.5 507.0 L290.9 507.5 L292.3 508.0 L293.7 508.6 L295.1 509.1 L296.5 509.5 L298.0 510.0 L299.4 510.5 L300.8 510.9 L302.2 511.4 L303.6 511.8 L305.1 512.2 L306.5 512.6 L308.0 513.0 L309.4 513.4 L310.8 513.7 L312.3 514.1 L313.7 514.4 L315.2 514.8 L316.7 515.1 L318.1 515.4 L319.6 515.7 L321.0 516.0 L322.5 516.3 L324.0 516.6 L325.5 516.9 L326.9 517.2 L328.4 517.4 L329.9 517.7 L331.4 518.0 L332.8 518.2 L334.3 518.5 L335.8 518.7 L337.3 518.9 L338.8 519.2 L340.3 519.4 L341.8 519.6 L343.2 519.8 L344.7 520.1 L346.2 520.3 L347.7 520.5 L349.2 520.7 L350.7 520.9 L352.2 521.1 L353.7 521.3 L355.2 521.5 L356.7 521.7 L358.1 521.9 L359.6 522.1 L361.1 522.3 L362.6 522.5 L364.1 522.7 L365.6 523.0 L367.1 523.2 L368.5 523.4 L370.0 523.6 L371.5 523.8 L373.0 524.0 L374.5 524.2 L376.0 524.4 L377.4 524.6 L378.9 524.8 L380.4 525.0 L381.9 525.2 L383.4 525.4 L384.9 525.6 L386.3 525.8 L387.8 526.0 L389.3 526.2 L390.8 526.4 L392.3 526.6 L393.7 526.7 L395.2 526.9 L396.7 527.1 L398.2 527.3 L399.7 527.5 L401.1 527.7 L402.6 527.9 L404.1 528.1 L405.6 528.3 L407.1 528.5 L408.6 528.6 L410.0 528.8 L411.5 529.0 L413.0 529.2 L414.5 529.4 L416.0 529.6 L417.4 529.7 L418.9 529.9 L420.4 530.1 L421.9 530.3 L423.4 530.4 L424.9 530.6 L426.3 530.8 L427.8 530.9 L429.3 531.1 L430.8 531.3 L432.3 531.4 L433.8 531.6 L435.3 531.8 L436.8 531.9 L438.2 532.1 L439.7 532.2 L441.2 532.4 L442.7 532.5 L444.2 532.7 L445.7 532.9 L447.2 533.0 L448.7 533.2 L450.2 533.3 L451.7 533.4 L453.2 533.6 L454.6 533.7 L456.1 533.9 L457.6 534.0 L459.1 534.2 L460.6 534.3 L462.1 534.4 L463.6 534.6 L465.1 534.7 L466.6 534.9 L468.1 535.0 L469.6 535.1 L471.1 535.3 L472.6 535.4 L474.1 535.6 L475.6 535.7 L477.1 535.8 L478.5 536.0 L480.0 536.1 L481.5 536.2 L483.0 536.4 L484.5 536.5 L486.0 536.6 L487.5 536.8 L489.0 536.9 L490.5 537.1 L492.0 537.2 L493.5 537.3 L495.0 537.5 L496.4 537.6 L497.9 537.8 L499.4 537.9 L500.9 538.0 L502.4 538.2 L503.9 538.3 L505.4 538.5 L506.9 538.6 L508.4 538.8 L509.8 538.9 L511.3 539.0 L512.8 539.2 L514.3 539.3 L515.8 539.4 L517.3 539.6 L518.8 539.7 L520.3 539.8 L521.7 539.9 L523.2 540.0 L524.7 540.1 L526.2 540.2 L527.7 540.3 L529.2 540.4 L530.7 540.5 L532.2 540.6 L533.7 540.7 L535.2 540.8 L536.6 540.8 L538.1 540.9 L539.6 540.9 L541.1 541.0 L542.6 541.0 L544.1 541.0 L545.6 541.0 L547.1 541.0 L548.6 541.0 L550.1 541.0 L551.6 541.0 L553.1 541.0 L554.6 541.0 L556.1 541.0 L557.6 540.9 L559.1 540.9 L560.6 540.9 L562.1 540.9 L563.6 540.9 L565.1 540.9 L566.6 540.9 L568.1 541.0 L569.6 541.0 L571.1 541.1 L572.6 541.1 L574.1 541.2 L575.6 541.3 L577.1 541.4 L578.6 541.5 L580.1 541.6 L581.6 541.8 L583.1 541.9 L584.6 542.1 L586.1 542.2 L587.5 542.4 L589.0 542.5 L590.5 542.7 L592.0 542.9 L593.5 543.1 L595.0 543.3 L596.5 543.5 L597.9 543.6 L599.4 543.8 L600.9 544.0 L602.4 544.2 L603.9 544.4 L605.4 544.6 L606.8 544.8 L608.3 545.0 L609.8 545.2 L611.3 545.4 L612.8 545.6 L614.3 545.8 L615.8 546.0 L617.2 546.2 L618.7 546.3 L620.2 546.5 L621.7 546.7 L623.2 546.8 L624.7 547.0 L626.2 547.1 L627.7 547.3 L629.1 547.4 L630.6 547.5 L632.1 547.6 L633.6 547.7 L635.1 547.8 L636.6 547.9 L638.1 548.0 L639.6 548.0 L641.1 548.1 L642.6 548.1 L644.1 548.1 L645.6 548.1 L647.1 548.1 L648.6 548.1 L650.1 548.1 L651.6 548.1 L653.1 548.1 L654.6 548.0 L656.1 548.0 L657.6 548.0 L659.1 547.9 L660.6 547.9 L662.1 547.9 L663.6 547.9 L665.1 547.9 L666.6 547.9 L668.1 548.0 L669.6 548.0 L671.1 548.1 L672.6 548.2 L674.1 548.3 L675.5 548.5 L677.0 548.7 L678.5 548.9 L680.0 549.1 L681.5 549.3 L683.0 549.6 L684.4 549.8 L685.9 550.1 L687.4 550.4 L688.9 550.7 L690.4 550.9 L691.8 551.2 L693.3 551.5 L694.8 551.8 L696.3 552.0 L697.7 552.3 L699.2 552.5 L700.7 552.7 L702.2 552.9 L703.7 553.0 L705.2 553.2 L706.7 553.3 L708.1 553.4 L709.6 553.4 L711.1 553.5 L712.6 553.5 L714.1 553.5 L715.6 553.5 L717.1 553.5 L718.6 553.5 L720.1 553.4 L721.6 553.4 L723.1 553.3 L724.6 553.3 L726.1 553.2 L727.6 553.2 L729.1 553.1 L730.5 553.1 L732.0 553.0 L733.5 553.0 L735.0 553.0 L736.5 552.9 L738.0 552.9 L739.5 552.9 L741.0 552.9 L742.5 552.9 L744.0 552.9 L745.5 553.0 L747.0 553.0 L748.4 553.1 L749.9 553.2 L751.4 553.3 L752.9 553.4 L754.4 553.5 L755.9 553.7 L757.4 553.9 L758.8 554.1 L760.3 554.4 L761.8 554.7 L763.3 555.0 L764.8 555.3 L766.2 555.6 L767.7 556.0 L769.2 556.4 L770.7 556.8 L772.1 557.1 L773.6 557.5 L775.1 557.9 L776.6 558.2 L778.0 558.6 L779.5 558.9 L781.0 559.1 L782.5 559.4 L783.9 559.6 L785.4 559.7 L786.9 559.8 L788.4 559.9 L789.9 559.9 L791.3 559.8 L792.8 559.7 L794.3 559.5 L795.8 559.3 L797.3 559.0 L798.8 558.8 L800.2 558.6 L801.7 558.3 L803.2 558.1 L804.7 558.0 L806.2 557.9 L807.7 557.8 L809.2 557.9 L810.6 558.0 L812.1 558.2 L813.6 558.5 L815.1 559.0 L816.5 559.6 L818.0 560.3" stroke="#3F96AE"/>
<path d="M122.6 443.5 L122.6 442.0 L122.8 440.5 L122.9 439.0 L123.0 437.5 L123.2 435.9 L123.3 434.4 L123.5 432.9 L123.7 431.4 L123.9 429.9 L124.1 428.5 L124.3 427.0 L124.5 425.5 L124.8 424.0 L125.1 422.5 L125.3 421.1 L125.6 419.6 L125.9 418.1 L126.2 416.7 L126.5 415.2 L126.8 413.8 L127.1 412.3 L127.4 410.9 L127.8 409.4 L128.1 408.0 L128.5 406.5 L128.8 405.1 L129.2 403.6 L129.6 402.2 L129.9 400.7 L130.3 399.3 L130.7 397.9 L131.1 396.4 L131.5 395.0 L131.9 393.6 L132.3 392.1 L132.6 390.7 L133.0 389.3 L133.4 387.8 L133.9 386.4 L134.3 384.9 L134.7 383.5 L135.1 382.1 L135.5 380.6 L135.9 379.2 L136.3 377.7 L136.7 376.3 L137.1 374.9 L137.5 373.4 L137.9 372.0 L138.3 370.5 L138.6 369.1 L139.0 367.6 L139.4 366.1 L139.8 364.7 L140.2 363.2 L140.6 361.8 L140.9 360.3 L141.3 358.8 L141.7 357.4 L142.1 355.9 L142.6 354.4 L143.0 353.0 L143.5 351.5 L143.9 350.1 L144.4 348.6 L144.9 347.1 L145.4 345.7 L146.0 344.2 L146.6 342.8 L147.2 341.3 L147.8 339.9 L148.5 338.5 L149.2 337.0 L149.9 335.6 L150.7 334.3 L151.5 333.1 L152.4 332.0 L153.3 331.2 L154.3 330.5 L155.3 330.0 L156.3 329.8 L157.3 329.7 L158.4 329.9 L159.4 330.4 L160.4 331.0 L161.4 331.9 L162.3 332.9 L163.3 334.1 L164.3 335.3 L165.3 336.7 L166.2 338.1 L167.2 339.4 L168.2 340.8 L169.2 342.1 L170.3 343.4 L171.3 344.6 L172.4 345.8 L173.4 346.9 L174.5 348.0 L175.6 349.1 L176.7 350.1 L177.8 351.1 L178.8 352.2 L179.9 353.2 L181.0 354.2 L182.1 355.2 L183.1 356.2 L184.1 357.2 L185.2 358.2 L186.2 359.2 L187.2 360.3 L188.1 361.4 L189.1 362.5 L190.0 363.6 L190.9 364.8 L191.8 365.9 L192.7 367.1 L193.6 368.3 L194.4 369.5 L195.3 370.7 L196.1 372.0 L196.9 373.2 L197.7 374.5 L198.5 375.8 L199.4 377.0 L200.2 378.3 L200.9 379.6 L201.7 380.9 L202.5 382.2 L203.3 383.5 L204.1 384.8 L204.9 386.1 L205.7 387.4 L206.5 388.7 L207.3 389.9 L208.1 391.2 L209.0 392.5 L209.8 393.7 L210.6 395.0 L211.5 396.2 L212.3 397.5 L213.2 398.7 L214.1 399.9 L215.0 401.1 L215.9 402.3 L216.9 403.4 L217.8 404.5 L218.8 405.7 L219.8 406.8 L220.8 407.9 L221.8 409.0 L222.8 410.1 L223.8 411.1 L224.8 412.2 L225.8 413.3 L226.9 414.3 L227.9 415.4 L228.9 416.5 L229.9 417.6 L231.0 418.6 L232.0 419.7 L233.0 420.8 L234.0 421.9 L235.1 423.0 L236.1 424.1 L237.1 425.2 L238.1 426.3 L239.1 427.5 L240.2 428.6 L241.2 429.7 L242.2 430.8 L243.3 431.9 L244.3 433.0 L245.4 434.1 L246.4 435.2 L247.5 436.2 L248.6 437.3 L249.7 438.3 L250.8 439.3 L251.9 440.3 L253.1 441.3 L254.2 442.3 L255.4 443.2 L256.5 444.1 L257.7 445.0 L259.0 445.8 L260.2 446.6 L261.5 447.4 L262.7 448.2 L264.0 448.9 L265.3 449.6 L266.7 450.2 L268.0 450.9 L269.4 451.5 L270.7 452.2 L272.1 452.8 L273.5 453.4 L274.8 454.0 L276.2 454.5 L277.6 455.1 L279.0 455.7 L280.4 456.3 L281.8 456.9 L283.2 457.5 L284.6 458.1 L285.9 458.7 L287.3 459.3 L288.7 460.0 L290.0 460.7 L291.4 461.3 L292.7 462.0 L294.1 462.7 L295.4 463.4 L296.7 464.0 L298.1 464.7 L299.4 465.4 L300.8 466.0 L302.1 466.7 L303.5 467.3 L304.8 467.9 L306.2 468.5 L307.6 469.0 L309.0 469.5 L310.4 470.0 L311.8 470.5 L313.2 470.9 L314.6 471.3 L316.1 471.7 L317.5 472.0 L319.0 472.3 L320.5 472.6 L321.9 472.9 L323.4 473.2 L324.9 473.5 L326.4 473.8 L327.9 474.0 L329.3 474.3 L330.8 474.6 L332.3 474.9 L333.8 475.2 L335.2 475.5 L336.7 475.8 L338.2 476.1 L339.6 476.5 L341.1 476.9 L342.5 477.2 L344.0 477.6 L345.4 478.0 L346.9 478.4 L348.3 478.8 L349.8 479.2 L351.2 479.6 L352.7 480.0 L354.1 480.4 L355.5 480.8 L357.0 481.2 L358.4 481.6 L359.9 482.0 L361.3 482.4 L362.8 482.7 L364.2 483.1 L365.7 483.5 L367.1 483.8 L368.6 484.1 L370.0 484.5 L371.5 484.8 L372.9 485.1 L374.4 485.4 L375.9 485.6 L377.4 485.9 L378.8 486.1 L380.3 486.4 L381.8 486.6 L383.3 486.8 L384.8 487.0 L386.2 487.2 L387.7 487.4 L389.2 487.6 L390.7 487.8 L392.2 488.0 L393.7 488.2 L395.2 488.3 L396.7 488.5 L398.2 488.7 L399.6 488.9 L401.1 489.1 L402.6 489.3 L404.1 489.5 L405.6 489.7 L407.1 489.9 L408.6 490.1 L410.0 490.4 L411.5 490.6 L413.0 490.9 L414.5 491.2 L415.9 491.5 L417.4 491.8 L418.8 492.1 L420.3 492.4 L421.8 492.7 L423.2 493.1 L424.7 493.4 L426.1 493.8 L427.6 494.1 L429.0 494.5 L430.5 494.8 L431.9 495.1 L433.4 495.5 L434.9 495.8 L436.3 496.0 L437.8 496.3 L439.3 496.6 L440.7 496.8 L442.2 497.0 L443.7 497.1 L445.2 497.3 L446.7 497.4 L448.1 497.5 L449.6 497.6 L451.1 497.7 L452.6 497.8 L454.1 497.9 L455.6 498.0 L457.1 498.1 L458.6 498.1 L460.1 498.2 L461.6 498.3 L463.1 498.4 L464.6 498.5 L466.1 498.7 L467.6 498.8 L469.1 498.9 L470.6 499.1 L472.0 499.3 L473.5 499.4 L475.0 499.6 L476.5 499.8 L478.0 500.0 L479.5 500.2 L481.0 500.5 L482.4 500.7 L483.9 500.9 L485.4 501.1 L486.9 501.4 L488.4 501.6 L489.8 501.9 L491.3 502.1 L492.8 502.4 L494.3 502.6 L495.8 502.9 L497.2 503.1 L498.7 503.4 L500.2 503.6 L501.7 503.8 L503.1 504.1 L504.6 504.3 L506.1 504.6 L507.6 504.8 L509.1 505.0 L510.6 505.2 L512.0 505.5 L513.5 505.7 L515.0 505.9 L516.5 506.1 L518.0 506.2 L519.5 506.4 L521.0 506.6 L522.4 506.7 L523.9 506.9 L525.4 507.0 L526.9 507.2 L528.4 507.3 L529.9 507.4 L531.4 507.5 L532.9 507.6 L534.4 507.7 L535.9 507.8 L537.4 507.9 L538.9 508.0 L540.4 508.1 L541.9 508.3 L543.4 508.4 L544.9 508.5 L546.3 508.6 L547.8 508.8 L549.3 508.9 L550.8 509.1 L552.3 509.2 L553.8 509.4 L555.3 509.6 L556.7 509.8 L558.2 510.0 L559.7 510.3 L561.2 510.5 L562.6 510.8 L564.1 511.0 L565.6 511.3 L567.1 511.5 L568.5 511.7 L570.0 512.0 L571.5 512.2 L573.0 512.3 L574.5 512.5 L576.0 512.6 L577.4 512.7 L578.9 512.8 L580.4 512.9 L581.9 513.0 L583.4 513.1 L584.9 513.1 L586.4 513.2 L587.9 513.3 L589.4 513.4 L590.9 513.5 L592.4 513.6 L593.9 513.8 L595.4 514.0 L596.9 514.2 L598.3 514.5 L599.8 514.8 L601.2 515.1 L602.7 515.4 L604.1 515.8 L605.6 516.2 L607.0 516.6 L608.5 517.0 L609.9 517.5 L611.4 517.9 L612.8 518.3 L614.3 518.7 L615.7 519.0 L617.2 519.4 L618.6 519.7 L620.1 520.0 L621.5 520.2 L623.0 520.4 L624.5 520.6 L625.9 520.7 L627.4 520.7 L628.9 520.8 L630.4 520.8 L631.9 520.8 L633.4 520.8 L634.9 520.8 L636.4 520.8 L637.9 520.7 L639.4 520.7 L640.9 520.7 L642.4 520.7 L643.9 520.7 L645.4 520.7 L646.9 520.8 L648.4 520.8 L649.9 520.9 L651.4 521.0 L652.9 521.1 L654.3 521.3 L655.8 521.4 L657.3 521.6 L658.8 521.8 L660.3 522.0 L661.8 522.2 L663.3 522.4 L664.7 522.6 L666.2 522.8 L667.7 523.0 L669.2 523.2 L670.7 523.4 L672.2 523.7 L673.6 523.9 L675.1 524.1 L676.6 524.3 L678.1 524.5 L679.6 524.7 L681.1 524.9 L682.5 525.1 L684.0 525.3 L685.5 525.5 L687.0 525.7 L688.5 525.9 L690.0 526.1 L691.5 526.3 L692.9 526.4 L694.4 526.6 L695.9 526.8 L697.4 526.9 L698.9 527.1 L700.4 527.3 L701.9 527.4 L703.4 527.6 L704.9 527.7 L706.3 527.9 L707.8 528.0 L709.3 528.2 L710.8 528.3 L712.3 528.5 L713.8 528.6 L715.3 528.8 L716.8 528.9 L718.3 529.0 L719.7 529.2 L721.2 529.3 L722.7 529.4 L724.2 529.6 L725.7 529.7 L727.2 529.8 L728.7 530.0 L730.2 530.1 L731.7 530.2 L733.2 530.4 L734.7 530.5 L736.2 530.6 L737.6 530.7 L739.1 530.9 L740.6 531.0 L742.1 531.1 L743.6 531.2 L745.1 531.4 L746.6 531.5 L748.1 531.6 L749.6 531.8 L751.1 531.9 L752.6 532.0 L754.0 532.2 L755.5 532.3 L757.0 532.4 L758.5 532.6 L760.0 532.7 L761.5 532.8 L763.0 533.0 L764.5 533.1 L766.0 533.3 L767.5 533.4 L769.0 533.5 L770.4 533.7 L771.9 533.8 L773.4 534.0 L774.9 534.1 L776.4 534.3 L777.9 534.5 L779.4 534.6 L780.9 534.8 L782.4 535.0 L783.8 535.1 L785.3 535.3 L786.8 535.5 L788.3 535.7 L789.8 535.8 L791.3 536.0 L792.8 536.2 L794.2 536.4 L795.7 536.6 L797.2 536.8 L798.7 537.0 L800.2 537.2 L801.7 537.4 L803.2 537.6 L804.6 537.9 L806.1 538.1 L807.6 538.3 L809.1 538.5 L810.6 538.8 L812.1 539.0 L813.5 539.3 L815.0 539.5 L816.5 539.8 L818.0 540.0" stroke="#D98038"/>
<path d="M123.0 409.0 L123.1 407.5 L123.2 406.1 L123.4 404.6 L123.5 403.1 L123.7 401.6 L123.8 400.1 L124.0 398.7 L124.1 397.2 L124.3 395.7 L124.4 394.2 L124.6 392.7 L124.8 391.2 L124.9 389.8 L125.1 388.3 L125.3 386.8 L125.5 385.3 L125.7 383.8 L125.8 382.3 L126.0 380.8 L126.2 379.4 L126.4 377.9 L126.6 376.4 L126.8 374.9 L127.0 373.4 L127.2 371.9 L127.5 370.4 L127.7 369.0 L127.9 367.5 L128.1 366.0 L128.3 364.5 L128.6 363.0 L128.8 361.5 L129.0 360.0 L129.2 358.6 L129.5 357.1 L129.7 355.6 L130.0 354.1 L130.2 352.6 L130.4 351.1 L130.7 349.7 L130.9 348.2 L131.2 346.7 L131.4 345.2 L131.7 343.7 L132.0 342.2 L132.2 340.8 L132.5 339.3 L132.7 337.8 L133.0 336.3 L133.3 334.8 L133.5 333.4 L133.8 331.9 L134.1 330.4 L134.3 328.9 L134.6 327.5 L134.9 326.0 L135.2 324.5 L135.5 323.0 L135.7 321.6 L136.0 320.1 L136.3 318.6 L136.6 317.2 L136.9 315.7 L137.2 314.2 L137.5 312.8 L137.7 311.3 L138.0 309.8 L138.3 308.4 L138.6 306.9 L138.9 305.4 L139.2 304.0 L139.5 302.5 L139.8 301.1 L140.1 299.6 L140.4 298.1 L140.7 296.7 L141.0 295.2 L141.3 293.8 L141.6 292.3 L141.9 290.9 L142.2 289.4 L142.5 288.0 L142.8 286.5 L143.1 285.1 L143.4 283.6 L143.8 282.2 L144.1 280.8 L144.4 279.3 L144.8 277.9 L145.1 276.4 L145.5 275.0 L145.9 273.5 L146.3 272.1 L146.7 270.6 L147.1 269.2 L147.5 267.8 L148.0 266.3 L148.5 264.9 L149.0 263.4 L149.5 262.0 L150.0 260.5 L150.6 259.1 L151.2 257.6 L151.8 256.2 L152.5 254.7 L153.1 253.2 L153.8 251.8 L154.6 250.4 L155.3 249.0 L156.1 247.6 L157.0 246.3 L157.8 245.1 L158.7 244.0 L159.7 243.0 L160.7 242.2 L161.8 241.5 L162.9 240.9 L164.0 240.5 L165.2 240.3 L166.5 240.3 L167.8 240.5 L169.1 240.9 L170.5 241.4 L171.8 242.1 L173.1 242.9 L174.3 243.8 L175.5 244.8 L176.7 245.9 L177.7 247.1 L178.7 248.3 L179.6 249.6 L180.5 250.9 L181.4 252.2 L182.2 253.5 L183.0 254.8 L183.8 256.1 L184.6 257.4 L185.4 258.7 L186.2 260.1 L187.0 261.4 L187.7 262.7 L188.4 264.0 L189.2 265.3 L189.9 266.6 L190.6 267.9 L191.3 269.3 L192.0 270.6 L192.7 271.9 L193.3 273.2 L194.0 274.6 L194.7 275.9 L195.3 277.2 L196.0 278.5 L196.6 279.9 L197.3 281.2 L197.9 282.5 L198.5 283.9 L199.2 285.2 L199.8 286.6 L200.4 287.9 L201.1 289.2 L201.7 290.6 L202.3 291.9 L203.0 293.3 L203.6 294.6 L204.2 296.0 L204.9 297.3 L205.5 298.7 L206.1 300.1 L206.8 301.4 L207.4 302.8 L208.1 304.1 L208.7 305.5 L209.4 306.8 L210.1 308.2 L210.7 309.5 L211.4 310.9 L212.1 312.2 L212.8 313.5 L213.5 314.9 L214.2 316.2 L214.9 317.5 L215.6 318.9 L216.3 320.2 L217.0 321.5 L217.7 322.8 L218.5 324.1 L219.2 325.4 L220.0 326.7 L220.8 328.0 L221.6 329.3 L222.3 330.5 L223.2 331.8 L224.0 333.0 L224.8 334.3 L225.6 335.5 L226.5 336.8 L227.3 338.0 L228.2 339.2 L229.1 340.4 L230.0 341.6 L230.9 342.8 L231.8 344.0 L232.7 345.2 L233.6 346.3 L234.5 347.5 L235.5 348.7 L236.4 349.8 L237.4 351.0 L238.4 352.1 L239.3 353.3 L240.3 354.4 L241.3 355.5 L242.3 356.6 L243.3 357.8 L244.3 358.9 L245.3 360.0 L246.3 361.1 L247.4 362.2 L248.4 363.3 L249.4 364.4 L250.5 365.4 L251.5 366.5 L252.6 367.6 L253.6 368.7 L254.7 369.8 L255.7 370.8 L256.8 371.9 L257.8 373.0 L258.9 374.0 L260.0 375.1 L261.0 376.1 L262.1 377.2 L263.2 378.3 L264.2 379.3 L265.3 380.4 L266.4 381.4 L267.5 382.4 L268.6 383.5 L269.6 384.5 L270.7 385.5 L271.8 386.6 L272.9 387.6 L274.0 388.6 L275.1 389.6 L276.3 390.6 L277.4 391.6 L278.5 392.5 L279.6 393.5 L280.8 394.4 L282.0 395.4 L283.1 396.3 L284.3 397.2 L285.5 398.1 L286.7 398.9 L287.9 399.8 L289.1 400.6 L290.3 401.5 L291.6 402.3 L292.8 403.0 L294.1 403.8 L295.4 404.6 L296.7 405.3 L298.0 406.0 L299.3 406.7 L300.7 407.3 L302.0 408.0 L303.4 408.6 L304.8 409.2 L306.2 409.8 L307.6 410.4 L309.0 411.0 L310.4 411.6 L311.8 412.1 L313.2 412.6 L314.6 413.2 L316.1 413.7 L317.5 414.2 L318.9 414.7 L320.3 415.2 L321.8 415.7 L323.2 416.2 L324.6 416.7 L326.1 417.1 L327.5 417.6 L329.0 418.1 L330.4 418.5 L331.8 419.0 L333.3 419.4 L334.7 419.9 L336.1 420.3 L337.6 420.7 L339.0 421.2 L340.5 421.6 L341.9 422.0 L343.4 422.4 L344.8 422.8 L346.2 423.3 L347.7 423.7 L349.1 424.1 L350.6 424.4 L352.0 424.8 L353.5 425.2 L354.9 425.6 L356.4 426.0 L357.8 426.4 L359.3 426.7 L360.7 427.1 L362.2 427.5 L363.6 427.8 L365.1 428.2 L366.5 428.5 L368.0 428.9 L369.4 429.2 L370.9 429.6 L372.3 429.9 L373.8 430.2 L375.2 430.6 L376.7 430.9 L378.2 431.2 L379.6 431.6 L381.1 431.9 L382.5 432.2 L384.0 432.5 L385.4 432.9 L386.9 433.2 L388.4 433.5 L389.8 433.8 L391.3 434.1 L392.8 434.4 L394.2 434.7 L395.7 435.0 L397.1 435.3 L398.6 435.6 L400.1 435.9 L401.5 436.2 L403.0 436.5 L404.5 436.8 L405.9 437.1 L407.4 437.4 L408.9 437.7 L410.3 438.0 L411.8 438.3 L413.3 438.6 L414.7 438.8 L416.2 439.1 L417.7 439.4 L419.1 439.7 L420.6 440.0 L422.1 440.3 L423.5 440.5 L425.0 440.8 L426.5 441.1 L428.0 441.4 L429.4 441.6 L430.9 441.9 L432.4 442.2 L433.8 442.5 L435.3 442.7 L436.8 443.0 L438.3 443.3 L439.7 443.5 L441.2 443.8 L442.7 444.1 L444.2 444.3 L445.6 444.6 L447.1 444.8 L448.6 445.1 L450.1 445.4 L451.5 445.6 L453.0 445.9 L454.5 446.1 L456.0 446.4 L457.5 446.6 L458.9 446.9 L460.4 447.1 L461.9 447.4 L463.4 447.6 L464.9 447.8 L466.3 448.1 L467.8 448.3 L469.3 448.6 L470.8 448.8 L472.3 449.0 L473.7 449.3 L475.2 449.5 L476.7 449.7 L478.2 450.0 L479.7 450.2 L481.1 450.4 L482.6 450.7 L484.1 450.9 L485.6 451.1 L487.1 451.3 L488.6 451.5 L490.0 451.8 L491.5 452.0 L493.0 452.2 L494.5 452.4 L496.0 452.6 L497.5 452.8 L499.0 453.0 L500.4 453.3 L501.9 453.5 L503.4 453.7 L504.9 453.9 L506.4 454.1 L507.9 454.3 L509.4 454.5 L510.8 454.7 L512.3 454.9 L513.8 455.1 L515.3 455.3 L516.8 455.5 L518.3 455.6 L519.8 455.8 L521.2 456.0 L522.7 456.2 L524.2 456.4 L525.7 456.6 L527.2 456.8 L528.7 456.9 L530.2 457.1 L531.7 457.3 L533.2 457.5 L534.6 457.6 L536.1 457.8 L537.6 458.0 L539.1 458.1 L540.6 458.3 L542.1 458.5 L543.6 458.6 L545.1 458.8 L546.5 459.0 L548.0 459.1 L549.5 459.3 L551.0 459.4 L552.5 459.6 L554.0 459.7 L555.5 459.9 L557.0 460.0 L558.5 460.2 L559.9 460.4 L561.4 460.5 L562.9 460.7 L564.4 460.8 L565.9 461.0 L567.4 461.1 L568.9 461.3 L570.4 461.5 L571.8 461.6 L573.3 461.8 L574.8 462.0 L576.3 462.1 L577.8 462.3 L579.3 462.5 L580.8 462.7 L582.2 462.9 L583.7 463.1 L585.2 463.3 L586.7 463.5 L588.2 463.7 L589.6 463.9 L591.1 464.1 L592.6 464.3 L594.1 464.6 L595.6 464.8 L597.0 465.0 L598.5 465.3 L600.0 465.5 L601.4 465.8 L602.9 466.0 L604.4 466.3 L605.9 466.6 L607.3 466.9 L608.8 467.1 L610.3 467.4 L611.8 467.7 L613.2 468.0 L614.7 468.2 L616.2 468.5 L617.6 468.8 L619.1 469.1 L620.6 469.3 L622.1 469.6 L623.5 469.8 L625.0 470.1 L626.5 470.4 L628.0 470.6 L629.4 470.8 L630.9 471.1 L632.4 471.3 L633.9 471.5 L635.4 471.8 L636.8 472.0 L638.3 472.2 L639.8 472.4 L641.3 472.6 L642.8 472.8 L644.3 473.0 L645.7 473.2 L647.2 473.4 L648.7 473.6 L650.2 473.8 L651.7 474.0 L653.2 474.2 L654.7 474.4 L656.1 474.6 L657.6 474.8 L659.1 475.0 L660.6 475.1 L662.1 475.3 L663.6 475.5 L665.1 475.7 L666.6 475.8 L668.0 476.0 L669.5 476.2 L671.0 476.4 L672.5 476.5 L674.0 476.7 L675.5 476.9 L677.0 477.0 L678.5 477.2 L680.0 477.4 L681.4 477.5 L682.9 477.7 L684.4 477.9 L685.9 478.0 L687.4 478.2 L688.9 478.4 L690.4 478.5 L691.9 478.7 L693.4 478.9 L694.8 479.1 L696.3 479.2 L697.8 479.4 L699.3 479.6 L700.8 479.8 L702.3 479.9 L703.8 480.1 L705.3 480.3 L706.7 480.5 L708.2 480.7 L709.7 480.8 L711.2 481.0 L712.7 481.2 L714.2 481.4 L715.7 481.6 L717.1 481.7 L718.6 481.9 L720.1 482.1 L721.6 482.3 L723.1 482.5 L724.6 482.7 L726.0 482.9 L727.5 483.0 L729.0 483.2 L730.5 483.4 L732.0 483.6 L733.5 483.8 L735.0 484.0 L736.4 484.2 L737.9 484.4 L739.4 484.6 L740.9 484.8 L742.4 485.0 L743.9 485.2 L745.3 485.4 L746.8 485.6 L748.3 485.7 L749.8 485.9 L751.3 486.1 L752.8 486.3 L754.2 486.5 L755.7 486.7 L757.2 486.9 L758.7 487.1 L760.2 487.3 L761.6 487.5 L763.1 487.7 L764.6 487.9 L766.1 488.1 L767.6 488.3 L769.1 488.5 L770.5 488.7 L772.0 489.0 L773.5 489.2 L775.0 489.4 L776.5 489.6 L778.0 489.8 L779.4 490.0 L780.9 490.2 L782.4 490.4 L783.9 490.6 L785.4 490.8 L786.8 491.0 L788.3 491.2 L789.8 491.4 L791.3 491.6 L792.8 491.8 L794.3 492.0 L795.7 492.2 L797.2 492.4 L798.7 492.7 L800.2 492.9 L801.7 493.1 L803.2 493.3 L804.6 493.5 L806.1 493.7 L807.6 493.9 L809.1 494.1 L810.6 494.3 L812.1 494.5 L813.5 494.7 L815.0 495.0 L816.5 495.2 L818.0 495.4" stroke="#8CA5CD"/>
<path d="M122.7 368.0 L122.8 366.5 L122.9 365.0 L123.0 363.5 L123.1 362.0 L123.3 360.5 L123.4 359.0 L123.5 357.5 L123.7 356.1 L123.8 354.6 L124.0 353.1 L124.1 351.6 L124.3 350.1 L124.4 348.6 L124.6 347.1 L124.7 345.6 L124.9 344.1 L125.1 342.6 L125.3 341.1 L125.4 339.7 L125.6 338.2 L125.8 336.7 L126.0 335.2 L126.2 333.7 L126.4 332.2 L126.6 330.7 L126.8 329.3 L127.0 327.8 L127.2 326.3 L127.4 324.8 L127.7 323.3 L127.9 321.8 L128.1 320.4 L128.3 318.9 L128.5 317.4 L128.8 315.9 L129.0 314.4 L129.2 313.0 L129.5 311.5 L129.7 310.0 L130.0 308.5 L130.2 307.1 L130.4 305.6 L130.7 304.1 L130.9 302.6 L131.2 301.2 L131.4 299.7 L131.7 298.2 L131.9 296.7 L132.2 295.2 L132.5 293.8 L132.7 292.3 L133.0 290.8 L133.2 289.4 L133.5 287.9 L133.8 286.4 L134.0 284.9 L134.3 283.5 L134.6 282.0 L134.8 280.5 L135.1 279.0 L135.4 277.6 L135.6 276.1 L135.9 274.6 L136.2 273.1 L136.4 271.7 L136.7 270.2 L137.0 268.7 L137.2 267.2 L137.5 265.8 L137.8 264.3 L138.0 262.8 L138.3 261.3 L138.6 259.9 L138.8 258.4 L139.1 256.9 L139.4 255.4 L139.6 254.0 L139.9 252.5 L140.2 251.0 L140.4 249.5 L140.7 248.0 L141.0 246.6 L141.2 245.1 L141.5 243.6 L141.8 242.1 L142.1 240.7 L142.3 239.2 L142.6 237.7 L143.0 236.3 L143.3 234.8 L143.6 233.3 L144.0 231.9 L144.4 230.4 L144.8 229.0 L145.3 227.5 L145.7 226.1 L146.2 224.6 L146.7 223.2 L147.3 221.8 L147.9 220.4 L148.6 219.0 L149.2 217.6 L150.0 216.2 L150.7 214.8 L151.6 213.6 L152.6 212.5 L153.6 211.6 L154.9 211.0 L156.2 210.6 L157.6 210.5 L158.9 210.7 L160.3 211.0 L161.5 211.7 L162.6 212.6 L163.6 213.6 L164.6 214.8 L165.4 216.1 L166.3 217.3 L167.2 218.6 L168.0 219.9 L168.9 221.1 L169.7 222.4 L170.5 223.7 L171.4 225.0 L172.2 226.2 L173.0 227.5 L173.8 228.8 L174.6 230.1 L175.4 231.3 L176.2 232.6 L177.0 233.9 L177.8 235.2 L178.6 236.5 L179.4 237.7 L180.2 239.0 L181.0 240.3 L181.7 241.6 L182.5 242.9 L183.3 244.2 L184.0 245.5 L184.8 246.8 L185.5 248.0 L186.3 249.3 L187.0 250.6 L187.8 251.9 L188.5 253.2 L189.3 254.5 L190.0 255.8 L190.7 257.1 L191.5 258.4 L192.2 259.7 L192.9 261.0 L193.6 262.3 L194.4 263.6 L195.1 264.9 L195.8 266.2 L196.5 267.5 L197.3 268.8 L198.0 270.2 L198.7 271.5 L199.4 272.8 L200.1 274.1 L200.8 275.4 L201.5 276.7 L202.3 278.0 L203.0 279.3 L203.7 280.7 L204.4 282.0 L205.1 283.3 L205.8 284.6 L206.5 285.9 L207.2 287.3 L207.9 288.6 L208.7 289.9 L209.4 291.2 L210.1 292.5 L210.8 293.9 L211.5 295.2 L212.2 296.5 L212.9 297.8 L213.7 299.2 L214.4 300.5 L215.1 301.8 L215.8 303.1 L216.6 304.4 L217.3 305.7 L218.0 307.1 L218.7 308.4 L219.5 309.7 L220.2 311.0 L221.0 312.3 L221.7 313.6 L222.4 314.9 L223.2 316.2 L223.9 317.5 L224.7 318.8 L225.4 320.1 L226.2 321.4 L226.9 322.6 L227.7 323.9 L228.5 325.2 L229.2 326.5 L230.0 327.7 L230.8 329.0 L231.6 330.3 L232.4 331.5 L233.2 332.8 L234.0 334.0 L234.8 335.3 L235.6 336.6 L236.4 337.8 L237.2 339.0 L238.0 340.3 L238.8 341.5 L239.6 342.8 L240.5 344.0 L241.3 345.2 L242.1 346.5 L243.0 347.7 L243.8 348.9 L244.7 350.1 L245.6 351.3 L246.4 352.6 L247.3 353.8 L248.2 355.0 L249.1 356.2 L250.0 357.4 L250.9 358.6 L251.8 359.8 L252.7 361.0 L253.6 362.2 L254.5 363.4 L255.4 364.5 L256.4 365.7 L257.3 366.9 L258.3 368.1 L259.2 369.3 L260.2 370.4 L261.2 371.6 L262.2 372.7 L263.2 373.9 L264.2 375.0 L265.2 376.1 L266.2 377.3 L267.2 378.4 L268.2 379.5 L269.3 380.6 L270.3 381.6 L271.4 382.7 L272.5 383.8 L273.6 384.8 L274.7 385.8 L275.8 386.9 L276.9 387.9 L278.0 388.8 L279.1 389.8 L280.3 390.8 L281.5 391.7 L282.6 392.6 L283.8 393.5 L285.0 394.4 L286.2 395.3 L287.4 396.1 L288.7 397.0 L289.9 397.8 L291.2 398.6 L292.4 399.3 L293.7 400.1 L295.0 400.8 L296.3 401.5 L297.7 402.1 L299.0 402.8 L300.3 403.4 L301.7 404.0 L303.1 404.6 L304.5 405.2 L305.9 405.8 L307.2 406.3 L308.6 406.9 L310.1 407.4 L311.5 407.9 L312.9 408.4 L314.3 409.0 L315.7 409.5 L317.1 410.0 L318.6 410.5 L320.0 411.0 L321.4 411.5 L322.8 412.1 L324.2 412.6 L325.6 413.1 L327.1 413.6 L328.5 414.2 L329.9 414.7 L331.3 415.2 L332.7 415.7 L334.1 416.2 L335.5 416.8 L337.0 417.3 L338.4 417.8 L339.8 418.3 L341.2 418.8 L342.6 419.3 L344.0 419.8 L345.5 420.2 L346.9 420.7 L348.3 421.2 L349.7 421.6 L351.2 422.1 L352.6 422.5 L354.0 422.9 L355.5 423.3 L356.9 423.7 L358.3 424.1 L359.8 424.5 L361.2 424.9 L362.7 425.2 L364.1 425.6 L365.6 425.9 L367.1 426.2 L368.5 426.5 L370.0 426.8 L371.4 427.1 L372.9 427.4 L374.4 427.7 L375.9 428.0 L377.3 428.3 L378.8 428.6 L380.3 428.8 L381.7 429.1 L383.2 429.4 L384.7 429.7 L386.2 429.9 L387.6 430.2 L389.1 430.5 L390.6 430.8 L392.0 431.0 L393.5 431.3 L395.0 431.6 L396.5 431.8 L397.9 432.1 L399.4 432.4 L400.9 432.6 L402.4 432.9 L403.8 433.2 L405.3 433.4 L406.8 433.7 L408.3 434.0 L409.7 434.2 L411.2 434.5 L412.7 434.8 L414.2 435.0 L415.6 435.3 L417.1 435.5 L418.6 435.8 L420.1 436.1 L421.5 436.3 L423.0 436.6 L424.5 436.8 L426.0 437.1 L427.4 437.4 L428.9 437.6 L430.4 437.9 L431.9 438.1 L433.3 438.4 L434.8 438.6 L436.3 438.9 L437.8 439.1 L439.3 439.4 L440.7 439.6 L442.2 439.9 L443.7 440.1 L445.2 440.4 L446.7 440.6 L448.1 440.8 L449.6 441.1 L451.1 441.3 L452.6 441.6 L454.0 441.8 L455.5 442.1 L457.0 442.3 L458.5 442.5 L460.0 442.8 L461.4 443.0 L462.9 443.2 L464.4 443.5 L465.9 443.7 L467.4 444.0 L468.9 444.2 L470.3 444.4 L471.8 444.6 L473.3 444.9 L474.8 445.1 L476.3 445.3 L477.7 445.6 L479.2 445.8 L480.7 446.0 L482.2 446.2 L483.7 446.5 L485.1 446.7 L486.6 446.9 L488.1 447.1 L489.6 447.3 L491.1 447.6 L492.6 447.8 L494.0 448.0 L495.5 448.2 L497.0 448.4 L498.5 448.6 L500.0 448.8 L501.5 449.0 L502.9 449.3 L504.4 449.5 L505.9 449.7 L507.4 449.9 L508.9 450.1 L510.4 450.3 L511.8 450.5 L513.3 450.7 L514.8 450.9 L516.3 451.1 L517.8 451.3 L519.3 451.5 L520.8 451.7 L522.2 451.9 L523.7 452.1 L525.2 452.3 L526.7 452.5 L528.2 452.6 L529.7 452.8 L531.2 453.0 L532.6 453.2 L534.1 453.4 L535.6 453.6 L537.1 453.8 L538.6 454.0 L540.1 454.1 L541.6 454.3 L543.0 454.5 L544.5 454.7 L546.0 454.9 L547.5 455.1 L549.0 455.2 L550.5 455.4 L552.0 455.6 L553.4 455.8 L554.9 456.0 L556.4 456.2 L557.9 456.3 L559.4 456.5 L560.9 456.7 L562.4 456.9 L563.8 457.1 L565.3 457.3 L566.8 457.5 L568.3 457.7 L569.8 457.8 L571.3 458.0 L572.8 458.2 L574.2 458.4 L575.7 458.6 L577.2 458.8 L578.7 459.0 L580.2 459.2 L581.7 459.4 L583.1 459.6 L584.6 459.8 L586.1 460.0 L587.6 460.2 L589.1 460.4 L590.6 460.6 L592.0 460.8 L593.5 461.0 L595.0 461.2 L596.5 461.4 L598.0 461.7 L599.5 461.9 L600.9 462.1 L602.4 462.3 L603.9 462.5 L605.4 462.7 L606.9 463.0 L608.4 463.2 L609.8 463.4 L611.3 463.6 L612.8 463.8 L614.3 464.0 L615.8 464.3 L617.3 464.5 L618.7 464.7 L620.2 464.9 L621.7 465.1 L623.2 465.3 L624.7 465.5 L626.2 465.7 L627.6 465.9 L629.1 466.1 L630.6 466.3 L632.1 466.5 L633.6 466.7 L635.1 466.8 L636.6 467.0 L638.1 467.2 L639.5 467.3 L641.0 467.5 L642.5 467.7 L644.0 467.8 L645.5 467.9 L647.0 468.1 L648.5 468.2 L650.0 468.3 L651.5 468.5 L653.0 468.6 L654.5 468.7 L656.0 468.8 L657.4 468.9 L658.9 469.0 L660.4 469.1 L661.9 469.3 L663.4 469.4 L664.9 469.5 L666.4 469.6 L667.9 469.8 L669.4 469.9 L670.9 470.0 L672.4 470.2 L673.9 470.3 L675.4 470.5 L676.8 470.6 L678.3 470.8 L679.8 471.0 L681.3 471.1 L682.8 471.3 L684.3 471.5 L685.8 471.7 L687.2 471.9 L688.7 472.1 L690.2 472.3 L691.7 472.5 L693.2 472.7 L694.7 472.9 L696.1 473.1 L697.6 473.3 L699.1 473.5 L700.6 473.7 L702.1 473.9 L703.6 474.2 L705.0 474.4 L706.5 474.6 L708.0 474.8 L709.5 475.1 L711.0 475.3 L712.4 475.5 L713.9 475.8 L715.4 476.0 L716.9 476.3 L718.4 476.5 L719.8 476.7 L721.3 477.0 L722.8 477.2 L724.3 477.5 L725.7 477.7 L727.2 477.9 L728.7 478.2 L730.2 478.4 L731.7 478.7 L733.1 478.9 L734.6 479.1 L736.1 479.4 L737.6 479.6 L739.1 479.9 L740.5 480.1 L742.0 480.3 L743.5 480.6 L745.0 480.8 L746.5 481.1 L747.9 481.3 L749.4 481.5 L750.9 481.7 L752.4 482.0 L753.9 482.2 L755.3 482.4 L756.8 482.6 L758.3 482.9 L759.8 483.1 L761.3 483.3 L762.8 483.5 L764.2 483.7 L765.7 483.9 L767.2 484.1 L768.7 484.3 L770.2 484.5 L771.7 484.7 L773.2 484.9 L774.6 485.1 L776.1 485.2 L777.6 485.4 L779.1 485.6 L780.6 485.8 L782.1 485.9 L783.6 486.1 L785.1 486.2 L786.5 486.4 L788.0 486.5 L789.5 486.7 L791.0 486.8 L792.5 486.9 L794.0 487.0 L795.5 487.2 L797.0 487.3 L798.5 487.4 L800.0 487.5 L801.5 487.6 L803.0 487.6 L804.5 487.7 L806.0 487.8 L807.5 487.9 L809.0 487.9 L810.5 488.0 L812.0 488.0 L813.5 488.1 L815.0 488.1 L816.5 488.1 L818.0 488.1" stroke="#CD8B8B"/>
<path d="M122.3 324.0 L122.5 322.5 L122.7 321.0 L122.9 319.6 L123.1 318.1 L123.3 316.6 L123.6 315.1 L123.8 313.7 L124.0 312.2 L124.2 310.7 L124.4 309.2 L124.6 307.8 L124.9 306.3 L125.1 304.8 L125.3 303.3 L125.5 301.8 L125.7 300.3 L126.0 298.9 L126.2 297.4 L126.4 295.9 L126.7 294.4 L126.9 292.9 L127.1 291.4 L127.4 289.9 L127.6 288.5 L127.9 287.0 L128.1 285.5 L128.3 284.0 L128.6 282.5 L128.8 281.0 L129.1 279.5 L129.4 278.1 L129.6 276.6 L129.9 275.1 L130.1 273.6 L130.4 272.1 L130.7 270.6 L130.9 269.2 L131.2 267.7 L131.5 266.2 L131.8 264.7 L132.1 263.3 L132.4 261.8 L132.7 260.3 L133.0 258.8 L133.3 257.4 L133.6 255.9 L133.9 254.4 L134.2 253.0 L134.5 251.5 L134.8 250.0 L135.1 248.6 L135.5 247.1 L135.8 245.7 L136.1 244.2 L136.5 242.7 L136.8 241.3 L137.2 239.8 L137.5 238.4 L137.9 237.0 L138.3 235.5 L138.6 234.1 L139.0 232.6 L139.4 231.2 L139.7 229.8 L140.1 228.3 L140.5 226.9 L140.9 225.5 L141.3 224.0 L141.7 222.6 L142.1 221.2 L142.5 219.7 L142.8 218.3 L143.2 216.9 L143.6 215.4 L144.0 214.0 L144.4 212.5 L144.8 211.1 L145.2 209.6 L145.5 208.1 L145.9 206.7 L146.3 205.2 L146.6 203.7 L147.0 202.3 L147.3 200.8 L147.7 199.3 L148.0 197.8 L148.3 196.3 L148.7 194.7 L149.0 193.2 L149.4 191.7 L149.8 190.3 L150.3 188.8 L150.8 187.3 L151.4 185.9 L152.0 184.6 L152.8 183.2 L153.7 182.0 L154.6 180.7 L155.7 179.6 L156.8 178.5 L158.0 177.6 L159.2 176.8 L160.5 176.2 L161.8 175.8 L163.1 175.5 L164.4 175.5 L165.7 175.7 L167.0 176.1 L168.2 176.7 L169.3 177.4 L170.4 178.4 L171.4 179.4 L172.4 180.6 L173.4 181.9 L174.3 183.2 L175.1 184.6 L176.0 185.9 L176.8 187.3 L177.6 188.6 L178.4 190.0 L179.2 191.3 L179.9 192.6 L180.7 193.9 L181.4 195.2 L182.1 196.5 L182.8 197.8 L183.5 199.1 L184.1 200.4 L184.8 201.8 L185.5 203.1 L186.1 204.4 L186.8 205.8 L187.4 207.1 L188.0 208.5 L188.6 209.8 L189.3 211.2 L189.9 212.5 L190.5 213.9 L191.0 215.3 L191.6 216.6 L192.2 218.0 L192.8 219.4 L193.4 220.8 L193.9 222.2 L194.5 223.6 L195.0 225.0 L195.6 226.4 L196.1 227.8 L196.7 229.2 L197.2 230.6 L197.8 232.0 L198.3 233.4 L198.8 234.8 L199.4 236.2 L199.9 237.6 L200.4 239.0 L201.0 240.4 L201.5 241.8 L202.0 243.2 L202.5 244.6 L203.1 246.0 L203.6 247.5 L204.1 248.9 L204.6 250.3 L205.2 251.7 L205.7 253.1 L206.2 254.5 L206.8 255.9 L207.3 257.3 L207.9 258.7 L208.4 260.1 L209.0 261.5 L209.5 262.9 L210.1 264.3 L210.6 265.7 L211.2 267.1 L211.8 268.5 L212.3 269.9 L212.9 271.3 L213.5 272.6 L214.1 274.0 L214.7 275.4 L215.3 276.8 L215.9 278.1 L216.5 279.5 L217.1 280.9 L217.8 282.2 L218.4 283.6 L219.1 284.9 L219.7 286.2 L220.4 287.6 L221.1 288.9 L221.8 290.2 L222.5 291.5 L223.2 292.9 L223.9 294.2 L224.6 295.5 L225.3 296.8 L226.1 298.1 L226.8 299.3 L227.6 300.6 L228.4 301.9 L229.2 303.2 L230.0 304.4 L230.8 305.7 L231.6 306.9 L232.4 308.2 L233.2 309.4 L234.1 310.6 L234.9 311.9 L235.8 313.1 L236.6 314.3 L237.5 315.5 L238.4 316.7 L239.3 318.0 L240.2 319.2 L241.0 320.4 L241.9 321.6 L242.9 322.7 L243.8 323.9 L244.7 325.1 L245.6 326.3 L246.5 327.5 L247.5 328.6 L248.4 329.8 L249.4 331.0 L250.3 332.1 L251.3 333.3 L252.2 334.5 L253.2 335.6 L254.1 336.8 L255.1 337.9 L256.1 339.1 L257.1 340.2 L258.1 341.3 L259.0 342.5 L260.0 343.6 L261.0 344.7 L262.1 345.8 L263.1 346.9 L264.1 348.0 L265.1 349.0 L266.2 350.1 L267.3 351.2 L268.3 352.2 L269.4 353.2 L270.5 354.2 L271.6 355.3 L272.7 356.3 L273.8 357.2 L274.9 358.2 L276.1 359.2 L277.2 360.1 L278.4 361.0 L279.6 361.9 L280.8 362.8 L282.0 363.7 L283.2 364.6 L284.4 365.4 L285.6 366.3 L286.9 367.1 L288.1 367.9 L289.4 368.8 L290.6 369.6 L291.9 370.3 L293.2 371.1 L294.5 371.9 L295.8 372.6 L297.1 373.4 L298.4 374.1 L299.7 374.8 L301.0 375.5 L302.4 376.2 L303.7 376.9 L305.0 377.6 L306.4 378.3 L307.7 379.0 L309.1 379.6 L310.4 380.3 L311.8 380.9 L313.2 381.5 L314.6 382.1 L315.9 382.7 L317.3 383.4 L318.7 383.9 L320.1 384.5 L321.5 385.1 L322.8 385.7 L324.2 386.3 L325.6 386.8 L327.0 387.4 L328.4 387.9 L329.8 388.5 L331.2 389.0 L332.6 389.5 L334.0 390.0 L335.4 390.5 L336.9 391.1 L338.3 391.6 L339.7 392.0 L341.1 392.5 L342.5 393.0 L343.9 393.5 L345.4 394.0 L346.8 394.4 L348.2 394.9 L349.6 395.3 L351.1 395.8 L352.5 396.2 L353.9 396.7 L355.4 397.1 L356.8 397.5 L358.2 397.9 L359.7 398.4 L361.1 398.8 L362.6 399.2 L364.0 399.6 L365.4 400.0 L366.9 400.4 L368.3 400.8 L369.8 401.1 L371.2 401.5 L372.7 401.9 L374.1 402.3 L375.6 402.6 L377.0 403.0 L378.5 403.4 L380.0 403.7 L381.4 404.1 L382.9 404.4 L384.3 404.8 L385.8 405.1 L387.3 405.4 L388.7 405.8 L390.2 406.1 L391.6 406.4 L393.1 406.8 L394.6 407.1 L396.0 407.4 L397.5 407.7 L399.0 408.0 L400.4 408.4 L401.9 408.7 L403.4 409.0 L404.8 409.3 L406.3 409.6 L407.8 409.9 L409.2 410.2 L410.7 410.5 L412.2 410.8 L413.6 411.1 L415.1 411.4 L416.6 411.7 L418.1 412.0 L419.5 412.2 L421.0 412.5 L422.5 412.8 L423.9 413.1 L425.4 413.4 L426.9 413.6 L428.4 413.9 L429.8 414.2 L431.3 414.5 L432.8 414.7 L434.3 415.0 L435.7 415.3 L437.2 415.5 L438.7 415.8 L440.2 416.0 L441.6 416.3 L443.1 416.6 L444.6 416.8 L446.1 417.1 L447.6 417.3 L449.0 417.6 L450.5 417.8 L452.0 418.1 L453.5 418.3 L455.0 418.5 L456.4 418.8 L457.9 419.0 L459.4 419.3 L460.9 419.5 L462.4 419.7 L463.8 420.0 L465.3 420.2 L466.8 420.4 L468.3 420.7 L469.8 420.9 L471.2 421.1 L472.7 421.3 L474.2 421.6 L475.7 421.8 L477.2 422.0 L478.7 422.2 L480.1 422.4 L481.6 422.6 L483.1 422.9 L484.6 423.1 L486.1 423.3 L487.6 423.5 L489.0 423.7 L490.5 423.9 L492.0 424.1 L493.5 424.3 L495.0 424.5 L496.5 424.7 L497.9 424.9 L499.4 425.1 L500.9 425.3 L502.4 425.5 L503.9 425.7 L505.4 425.9 L506.9 426.1 L508.3 426.3 L509.8 426.5 L511.3 426.7 L512.8 426.9 L514.3 427.1 L515.8 427.3 L517.3 427.5 L518.8 427.6 L520.2 427.8 L521.7 428.0 L523.2 428.2 L524.7 428.4 L526.2 428.6 L527.7 428.7 L529.2 428.9 L530.6 429.1 L532.1 429.3 L533.6 429.5 L535.1 429.6 L536.6 429.8 L538.1 430.0 L539.6 430.2 L541.1 430.3 L542.5 430.5 L544.0 430.7 L545.5 430.9 L547.0 431.0 L548.5 431.2 L550.0 431.4 L551.5 431.5 L553.0 431.7 L554.4 431.9 L555.9 432.1 L557.4 432.2 L558.9 432.4 L560.4 432.6 L561.9 432.8 L563.4 432.9 L564.8 433.1 L566.3 433.3 L567.8 433.5 L569.3 433.7 L570.8 433.9 L572.3 434.1 L573.7 434.3 L575.2 434.5 L576.7 434.7 L578.2 434.9 L579.7 435.2 L581.1 435.4 L582.6 435.6 L584.1 435.9 L585.6 436.1 L587.0 436.4 L588.5 436.6 L590.0 436.9 L591.5 437.2 L592.9 437.5 L594.4 437.8 L595.9 438.1 L597.3 438.4 L598.8 438.7 L600.3 439.0 L601.7 439.3 L603.2 439.7 L604.6 440.0 L606.1 440.3 L607.6 440.7 L609.0 441.0 L610.5 441.3 L612.0 441.6 L613.4 441.9 L614.9 442.2 L616.4 442.5 L617.9 442.7 L619.3 443.0 L620.8 443.2 L622.3 443.4 L623.8 443.6 L625.3 443.7 L626.8 443.8 L628.2 444.0 L629.7 444.0 L631.2 444.1 L632.7 444.1 L634.2 444.1 L635.8 444.1 L637.3 444.1 L638.8 444.0 L640.3 444.0 L641.8 443.9 L643.3 443.9 L644.8 443.8 L646.3 443.8 L647.8 443.7 L649.3 443.7 L650.8 443.7 L652.3 443.8 L653.8 443.8 L655.3 443.9 L656.8 444.1 L658.3 444.3 L659.7 444.5 L661.2 444.8 L662.7 445.0 L664.2 445.4 L665.6 445.7 L667.1 446.1 L668.5 446.5 L670.0 446.9 L671.4 447.3 L672.9 447.7 L674.4 448.1 L675.8 448.5 L677.3 448.9 L678.7 449.3 L680.2 449.7 L681.7 450.1 L683.1 450.4 L684.6 450.8 L686.1 451.1 L687.5 451.4 L689.0 451.7 L690.5 452.0 L691.9 452.2 L693.4 452.5 L694.9 452.7 L696.4 452.9 L697.9 453.1 L699.3 453.3 L700.8 453.5 L702.3 453.7 L703.8 453.9 L705.3 454.0 L706.8 454.2 L708.3 454.4 L709.8 454.5 L711.2 454.6 L712.7 454.8 L714.2 454.9 L715.7 455.0 L717.2 455.1 L718.7 455.3 L720.2 455.4 L721.7 455.5 L723.2 455.6 L724.7 455.7 L726.2 455.8 L727.7 455.9 L729.2 456.1 L730.6 456.2 L732.1 456.3 L733.6 456.4 L735.1 456.5 L736.6 456.7 L738.1 456.8 L739.6 456.9 L741.1 457.1 L742.6 457.2 L744.1 457.4 L745.5 457.5 L747.0 457.7 L748.5 457.9 L750.0 458.1 L751.5 458.3 L752.9 458.5 L754.4 458.7 L755.9 458.9 L757.4 459.1 L758.9 459.4 L760.3 459.6 L761.8 459.9 L763.3 460.1 L764.7 460.4 L766.2 460.7 L767.7 460.9 L769.2 461.2 L770.6 461.5 L772.1 461.8 L773.6 462.0 L775.0 462.3 L776.5 462.6 L778.0 462.9 L779.5 463.2 L780.9 463.5 L782.4 463.7 L783.9 464.0 L785.3 464.3 L786.8 464.6 L788.3 464.8 L789.8 465.1 L791.2 465.4 L792.7 465.6 L794.2 465.9 L795.7 466.1 L797.1 466.4 L798.6 466.6 L800.1 466.8 L801.6 467.0 L803.1 467.2 L804.5 467.4 L806.0 467.6 L807.5 467.8 L809.0 468.0 L810.5 468.1 L812.0 468.3 L813.5 468.4 L815.0 468.5 L816.5 468.6 L818.0 468.7" stroke="#B3C98F"/>
<path d="M122.7 353.0 L122.8 351.5 L123.0 350.0 L123.1 348.5 L123.2 347.0 L123.3 345.5 L123.4 344.1 L123.5 342.6 L123.7 341.1 L123.8 339.6 L123.9 338.1 L124.1 336.6 L124.2 335.1 L124.3 333.6 L124.4 332.1 L124.6 330.6 L124.7 329.1 L124.9 327.6 L125.0 326.1 L125.1 324.7 L125.3 323.2 L125.4 321.7 L125.6 320.2 L125.7 318.7 L125.9 317.2 L126.0 315.7 L126.2 314.2 L126.3 312.7 L126.5 311.2 L126.6 309.7 L126.8 308.2 L126.9 306.8 L127.1 305.3 L127.3 303.8 L127.4 302.3 L127.6 300.8 L127.8 299.3 L127.9 297.8 L128.1 296.3 L128.3 294.8 L128.4 293.3 L128.6 291.8 L128.8 290.4 L129.0 288.9 L129.1 287.4 L129.3 285.9 L129.5 284.4 L129.7 282.9 L129.9 281.4 L130.0 279.9 L130.2 278.4 L130.4 277.0 L130.6 275.5 L130.8 274.0 L131.0 272.5 L131.2 271.0 L131.4 269.5 L131.6 268.0 L131.8 266.5 L132.0 265.0 L132.2 263.6 L132.4 262.1 L132.6 260.6 L132.8 259.1 L133.0 257.6 L133.2 256.1 L133.4 254.6 L133.6 253.2 L133.8 251.7 L134.0 250.2 L134.3 248.7 L134.5 247.2 L134.7 245.7 L134.9 244.3 L135.1 242.8 L135.4 241.3 L135.6 239.8 L135.8 238.3 L136.0 236.8 L136.3 235.4 L136.5 233.9 L136.7 232.4 L137.0 230.9 L137.2 229.4 L137.4 228.0 L137.7 226.5 L137.9 225.0 L138.1 223.5 L138.4 222.0 L138.6 220.6 L138.9 219.1 L139.1 217.6 L139.3 216.1 L139.6 214.7 L139.8 213.2 L140.1 211.7 L140.3 210.2 L140.6 208.8 L140.9 207.3 L141.1 205.8 L141.4 204.3 L141.6 202.9 L141.9 201.4 L142.1 199.9 L142.4 198.4 L142.7 197.0 L142.9 195.5 L143.2 194.0 L143.5 192.6 L143.7 191.1 L144.0 189.6 L144.3 188.1 L144.6 186.7 L144.8 185.2 L145.1 183.7 L145.4 182.3 L145.7 180.8 L146.0 179.4 L146.3 177.9 L146.6 176.4 L147.0 175.0 L147.3 173.5 L147.7 172.1 L148.0 170.6 L148.4 169.1 L148.8 167.7 L149.2 166.2 L149.7 164.8 L150.1 163.3 L150.6 161.9 L151.1 160.5 L151.6 159.0 L152.1 157.6 L152.7 156.2 L153.2 154.7 L153.8 153.3 L154.5 151.9 L155.1 150.5 L155.8 149.0 L156.6 147.7 L157.3 146.3 L158.2 145.1 L159.2 144.1 L160.3 143.2 L161.5 142.5 L162.8 142.1 L164.2 141.8 L165.7 141.8 L167.2 141.9 L168.7 142.2 L170.1 142.7 L171.5 143.3 L172.8 144.0 L174.0 145.0 L175.1 146.0 L176.0 147.1 L176.9 148.3 L177.7 149.6 L178.5 150.9 L179.2 152.2 L180.0 153.5 L180.8 154.8 L181.5 156.1 L182.3 157.4 L183.0 158.7 L183.7 160.0 L184.5 161.3 L185.2 162.6 L185.9 164.0 L186.6 165.3 L187.3 166.6 L188.0 167.9 L188.7 169.3 L189.4 170.6 L190.1 172.0 L190.7 173.3 L191.4 174.7 L192.1 176.0 L192.7 177.4 L193.4 178.7 L194.0 180.1 L194.7 181.4 L195.3 182.8 L195.9 184.2 L196.6 185.6 L197.2 186.9 L197.8 188.3 L198.4 189.7 L199.0 191.1 L199.6 192.4 L200.2 193.8 L200.8 195.2 L201.4 196.6 L202.0 198.0 L202.6 199.3 L203.1 200.7 L203.7 202.1 L204.3 203.5 L204.8 204.9 L205.4 206.3 L205.9 207.7 L206.5 209.1 L207.0 210.5 L207.6 211.9 L208.1 213.3 L208.7 214.7 L209.2 216.1 L209.7 217.5 L210.2 218.9 L210.8 220.3 L211.3 221.6 L211.8 223.0 L212.3 224.4 L212.8 225.8 L213.3 227.2 L213.8 228.6 L214.3 230.0 L214.9 231.4 L215.4 232.8 L215.9 234.2 L216.4 235.6 L216.9 237.0 L217.4 238.4 L217.9 239.7 L218.5 241.1 L219.0 242.5 L219.6 243.9 L220.1 245.3 L220.7 246.7 L221.2 248.0 L221.8 249.4 L222.4 250.8 L222.9 252.2 L223.5 253.5 L224.2 254.9 L224.8 256.3 L225.4 257.6 L226.0 259.0 L226.7 260.3 L227.4 261.7 L228.0 263.0 L228.7 264.4 L229.4 265.7 L230.1 267.1 L230.9 268.4 L231.6 269.7 L232.3 271.1 L233.1 272.4 L233.9 273.7 L234.7 275.0 L235.4 276.3 L236.2 277.6 L237.1 278.9 L237.9 280.2 L238.7 281.5 L239.6 282.7 L240.4 284.0 L241.3 285.2 L242.2 286.5 L243.1 287.7 L243.9 288.9 L244.9 290.2 L245.8 291.4 L246.7 292.6 L247.6 293.8 L248.6 294.9 L249.5 296.1 L250.5 297.3 L251.5 298.4 L252.5 299.5 L253.5 300.7 L254.5 301.8 L255.5 302.9 L256.5 304.0 L257.5 305.0 L258.6 306.1 L259.6 307.2 L260.7 308.2 L261.8 309.2 L262.8 310.3 L263.9 311.3 L265.0 312.3 L266.1 313.3 L267.2 314.2 L268.4 315.2 L269.5 316.2 L270.6 317.1 L271.8 318.0 L272.9 319.0 L274.1 319.9 L275.2 320.8 L276.4 321.7 L277.6 322.6 L278.8 323.4 L280.0 324.3 L281.2 325.2 L282.4 326.0 L283.6 326.8 L284.8 327.7 L286.1 328.5 L287.3 329.3 L288.5 330.1 L289.8 330.9 L291.0 331.7 L292.3 332.4 L293.6 333.2 L294.9 333.9 L296.1 334.7 L297.4 335.4 L298.7 336.2 L300.0 336.9 L301.3 337.6 L302.6 338.3 L303.9 339.0 L305.3 339.7 L306.6 340.3 L307.9 341.0 L309.2 341.7 L310.6 342.3 L311.9 343.0 L313.3 343.6 L314.6 344.3 L316.0 344.9 L317.4 345.5 L318.7 346.1 L320.1 346.7 L321.5 347.3 L322.9 347.9 L324.2 348.5 L325.6 349.1 L327.0 349.7 L328.4 350.2 L329.8 350.8 L331.2 351.3 L332.6 351.9 L334.0 352.4 L335.4 352.9 L336.8 353.5 L338.3 354.0 L339.7 354.5 L341.1 355.0 L342.5 355.5 L344.0 356.0 L345.4 356.5 L346.8 357.0 L348.3 357.5 L349.7 358.0 L351.1 358.4 L352.6 358.9 L354.0 359.4 L355.5 359.8 L356.9 360.3 L358.4 360.7 L359.8 361.2 L361.3 361.6 L362.7 362.1 L364.2 362.5 L365.6 362.9 L367.1 363.3 L368.6 363.8 L370.0 364.2 L371.5 364.6 L372.9 365.0 L374.4 365.4 L375.9 365.8 L377.3 366.2 L378.8 366.6 L380.2 367.0 L381.7 367.4 L383.2 367.8 L384.6 368.1 L386.1 368.5 L387.5 368.9 L389.0 369.3 L390.5 369.6 L391.9 370.0 L393.4 370.4 L394.9 370.7 L396.3 371.1 L397.8 371.4 L399.2 371.8 L400.7 372.1 L402.2 372.5 L403.6 372.8 L405.1 373.2 L406.6 373.5 L408.0 373.8 L409.5 374.2 L410.9 374.5 L412.4 374.8 L413.9 375.1 L415.3 375.5 L416.8 375.8 L418.3 376.1 L419.7 376.4 L421.2 376.7 L422.6 377.0 L424.1 377.3 L425.6 377.6 L427.0 377.9 L428.5 378.2 L430.0 378.5 L431.4 378.8 L432.9 379.1 L434.4 379.4 L435.8 379.7 L437.3 380.0 L438.8 380.3 L440.2 380.6 L441.7 380.8 L443.2 381.1 L444.6 381.4 L446.1 381.7 L447.6 381.9 L449.0 382.2 L450.5 382.5 L452.0 382.7 L453.4 383.0 L454.9 383.2 L456.4 383.5 L457.8 383.8 L459.3 384.0 L460.8 384.3 L462.2 384.5 L463.7 384.8 L465.2 385.0 L466.6 385.3 L468.1 385.5 L469.6 385.7 L471.1 386.0 L472.5 386.2 L474.0 386.4 L475.5 386.7 L477.0 386.9 L478.4 387.1 L479.9 387.4 L481.4 387.6 L482.8 387.8 L484.3 388.1 L485.8 388.3 L487.3 388.5 L488.8 388.7 L490.2 388.9 L491.7 389.2 L493.2 389.4 L494.7 389.6 L496.1 389.8 L497.6 390.0 L499.1 390.2 L500.6 390.4 L502.1 390.6 L503.5 390.8 L505.0 391.1 L506.5 391.3 L508.0 391.5 L509.5 391.7 L511.0 391.9 L512.4 392.1 L513.9 392.3 L515.4 392.5 L516.9 392.7 L518.4 392.9 L519.9 393.0 L521.4 393.2 L522.8 393.4 L524.3 393.6 L525.8 393.8 L527.3 394.0 L528.8 394.2 L530.3 394.4 L531.8 394.6 L533.3 394.8 L534.8 394.9 L536.3 395.1 L537.7 395.3 L539.2 395.5 L540.7 395.7 L542.2 395.9 L543.7 396.1 L545.2 396.2 L546.7 396.4 L548.2 396.6 L549.7 396.8 L551.2 397.0 L552.7 397.2 L554.2 397.3 L555.7 397.5 L557.2 397.7 L558.7 397.9 L560.2 398.1 L561.7 398.3 L563.1 398.4 L564.6 398.6 L566.1 398.8 L567.6 399.0 L569.1 399.2 L570.6 399.4 L572.1 399.5 L573.6 399.7 L575.1 399.9 L576.6 400.1 L578.1 400.3 L579.6 400.5 L581.1 400.7 L582.6 400.9 L584.1 401.1 L585.5 401.2 L587.0 401.4 L588.5 401.6 L590.0 401.8 L591.5 402.0 L593.0 402.2 L594.5 402.4 L596.0 402.6 L597.5 402.8 L598.9 403.0 L600.4 403.2 L601.9 403.4 L603.4 403.6 L604.9 403.8 L606.4 404.0 L607.9 404.2 L609.3 404.4 L610.8 404.7 L612.3 404.9 L613.8 405.1 L615.3 405.3 L616.7 405.5 L618.2 405.7 L619.7 405.9 L621.2 406.1 L622.7 406.4 L624.1 406.6 L625.6 406.8 L627.1 407.0 L628.6 407.2 L630.1 407.4 L631.5 407.7 L633.0 407.9 L634.5 408.1 L636.0 408.3 L637.5 408.5 L638.9 408.8 L640.4 409.0 L641.9 409.2 L643.4 409.4 L644.8 409.6 L646.3 409.9 L647.8 410.1 L649.3 410.3 L650.8 410.5 L652.2 410.7 L653.7 411.0 L655.2 411.2 L656.7 411.4 L658.1 411.6 L659.6 411.8 L661.1 412.1 L662.6 412.3 L664.1 412.5 L665.5 412.7 L667.0 412.9 L668.5 413.1 L670.0 413.4 L671.5 413.6 L672.9 413.8 L674.4 414.0 L675.9 414.2 L677.4 414.4 L678.9 414.6 L680.4 414.9 L681.8 415.1 L683.3 415.3 L684.8 415.5 L686.3 415.7 L687.8 415.9 L689.3 416.2 L690.7 416.4 L692.2 416.6 L693.7 416.8 L695.2 417.0 L696.7 417.2 L698.2 417.5 L699.6 417.7 L701.1 417.9 L702.6 418.1 L704.1 418.4 L705.6 418.6 L707.1 418.8 L708.5 419.0 L710.0 419.3 L711.5 419.5 L713.0 419.7 L714.5 420.0 L716.0 420.2 L717.4 420.4 L718.9 420.7 L720.4 420.9 L721.9 421.2 L723.4 421.4 L724.8 421.7 L726.3 421.9 L727.8 422.2 L729.3 422.4 L730.7 422.7 L732.2 423.0 L733.7 423.2 L735.2 423.5 L736.6 423.7 L738.1 424.0 L739.6 424.3 L741.1 424.6 L742.5 424.9 L744.0 425.1 L745.5 425.4 L747.0 425.7 L748.4 426.0 L749.9 426.3 L751.4 426.6 L752.8 426.9 L754.3 427.2 L755.8 427.5 L757.2 427.7 L758.7 428.0 L760.2 428.3 L761.6 428.6 L763.1 428.9 L764.6 429.2 L766.1 429.5 L767.5 429.8 L769.0 430.0 L770.5 430.3 L771.9 430.6 L773.4 430.9 L774.9 431.1 L776.4 431.4 L777.8 431.7 L779.3 431.9 L780.8 432.2 L782.2 432.4 L783.7 432.7 L785.2 432.9 L786.7 433.1 L788.2 433.4 L789.6 433.6 L791.1 433.8 L792.6 434.0 L794.1 434.2 L795.6 434.4 L797.0 434.6 L798.5 434.8 L800.0 434.9 L801.5 435.1 L803.0 435.2 L804.5 435.4 L806.0 435.5 L807.5 435.7 L809.0 435.8 L810.5 435.9 L812.0 436.0 L813.5 436.1 L815.0 436.2 L816.5 436.2 L818.0 436.3" stroke="#A494BB"/>
</g>
<line x1="853.3" y1="151.0" x2="899.6" y2="151.0" stroke="#4470A8" stroke-width="4.6" stroke-linecap="round"/>
<text x="905" y="158.3" font-size="21.5" letter-spacing="0.25" font-family="Liberation Sans, sans-serif" fill="#000">Bilayer 1</text>
<line x1="853.3" y1="196.0" x2="899.6" y2="196.0" stroke="#A84542" stroke-width="4.6" stroke-linecap="round"/>
<text x="905" y="203.3" font-size="21.5" letter-spacing="0.25" font-family="Liberation Sans, sans-serif" fill="#000">Bilayer 2</text>
<line x1="853.3" y1="242.2" x2="899.6" y2="242.2" stroke="#86A54D" stroke-width="4.6" stroke-linecap="round"/>
<text x="905" y="249.5" font-size="21.5" letter-spacing="0.25" font-family="Liberation Sans, sans-serif" fill="#000">Bilayer 3</text>
<line x1="853.3" y1="288.1" x2="899.6" y2="288.1" stroke="#6D548D" stroke-width="4.6" stroke-linecap="round"/>
<text x="905" y="295.4" font-size="21.5" letter-spacing="0.25" font-family="Liberation Sans, sans-serif" fill="#000">Bilayer 4</text>
<line x1="853.3" y1="332.5" x2="899.6" y2="332.5" stroke="#3F96AE" stroke-width="4.6" stroke-linecap="round"/>
<text x="905" y="339.8" font-size="21.5" letter-spacing="0.25" font-family="Liberation Sans, sans-serif" fill="#000">Bilayer 5</text>
<line x1="853.3" y1="377.5" x2="899.6" y2="377.5" stroke="#D98038" stroke-width="4.6" stroke-linecap="round"/>
<text x="905" y="384.8" font-size="21.5" letter-spacing="0.25" font-family="Liberation Sans, sans-serif" fill="#000">Bilayer 6</text>
<line x1="853.3" y1="423.7" x2="899.6" y2="423.7" stroke="#8CA5CD" stroke-width="4.6" stroke-linecap="round"/>
<text x="905" y="431.0" font-size="21.5" letter-spacing="0.25" font-family="Liberation Sans, sans-serif" fill="#000">Bilayer 7</text>
<line x1="853.3" y1="469.5" x2="899.6" y2="469.5" stroke="#CD8B8B" stroke-width="4.6" stroke-linecap="round"/>
<text x="905" y="476.8" font-size="21.5" letter-spacing="0.25" font-family="Liberation Sans, sans-serif" fill="#000">Bilayer 8</text>
<line x1="853.3" y1="515.7" x2="899.6" y2="515.7" stroke="#B3C98F" stroke-width="4.6" stroke-linecap="round"/>
<text x="905" y="523.0" font-size="21.5" letter-spacing="0.25" font-family="Liberation Sans, sans-serif" fill="#000">Bilayer 9</text>
<line x1="853.3" y1="559.4" x2="899.6" y2="559.4" stroke="#A494BB" stroke-width="4.6" stroke-linecap="round"/>
<text x="905" y="566.7" font-size="21.5" letter-spacing="0.25" font-family="Liberation Sans, sans-serif" fill="#000">Bilayer 10</text>
<line x1="372.5" y1="236.4" x2="785" y2="236.4" stroke="#868686" stroke-width="1.2"/>
<line x1="372.5" y1="197.3" x2="785" y2="197.3" stroke="#868686" stroke-width="1.2"/>
<line x1="372.5" y1="157.0" x2="785" y2="157.0" stroke="#868686" stroke-width="1.2"/>
<line x1="372.5" y1="118.3" x2="785" y2="118.3" stroke="#868686" stroke-width="1.2"/>
<line x1="372.5" y1="79.2" x2="785" y2="79.2" stroke="#868686" stroke-width="1.2"/>
<line x1="372.5" y1="41.5" x2="785" y2="41.5" stroke="#868686" stroke-width="1.2"/>
<line x1="372.5" y1="41" x2="372.5" y2="276" stroke="#868686" stroke-width="1.2"/>
<line x1="785" y1="41" x2="785" y2="276" stroke="#868686" stroke-width="1.5"/>
<line x1="372" y1="276" x2="785.5" y2="276" stroke="#7f7f7f" stroke-width="2"/>
<line x1="372.5" y1="276" x2="372.5" y2="285" stroke="#868686" stroke-width="2.4"/>
<line x1="559.5" y1="276" x2="559.5" y2="285" stroke="#868686" stroke-width="2.4"/>
<line x1="746.7" y1="276" x2="746.7" y2="285" stroke="#868686" stroke-width="2.4"/>
<text x="350" y="283.8" text-anchor="end" font-size="21.5" font-weight="bold" font-family="Liberation Sans, sans-serif" fill="#000">0</text>
<text x="350" y="244.2" text-anchor="end" font-size="21.5" font-weight="bold" font-family="Liberation Sans, sans-serif" fill="#000">0.2</text>
<text x="350" y="205.1" text-anchor="end" font-size="21.5" font-weight="bold" font-family="Liberation Sans, sans-serif" fill="#000">0.4</text>
<text x="350" y="164.8" text-anchor="end" font-size="21.5" font-weight="bold" font-family="Liberation Sans, sans-serif" fill="#000">0.6</text>
<text x="350" y="126.1" text-anchor="end" font-size="21.5" font-weight="bold" font-family="Liberation Sans, sans-serif" fill="#000">0.8</text>
<text x="350" y="87.0" text-anchor="end" font-size="21.5" font-weight="bold" font-family="Liberation Sans, sans-serif" fill="#000">1</text>
<text x="350" y="49.3" text-anchor="end" font-size="21.5" font-weight="bold" font-family="Liberation Sans, sans-serif" fill="#000">1.2</text>
<text x="372.7" y="313.8" text-anchor="middle" font-size="21.5" font-weight="bold" font-family="Liberation Sans, sans-serif" fill="#000">0</text>
<text x="559.5" y="313.8" text-anchor="middle" font-size="21.5" font-weight="bold" font-family="Liberation Sans, sans-serif" fill="#000">5</text>
<text x="747.9" y="313.8" text-anchor="middle" font-size="21.5" font-weight="bold" font-family="Liberation Sans, sans-serif" fill="#000">10</text>
<text x="562.5" y="339.7" text-anchor="middle" font-size="21.5" font-weight="bold" font-family="Liberation Sans, sans-serif" fill="#000">Bilayer</text>
<text transform="translate(299,136.5) rotate(-90)" x="0" y="0" text-anchor="middle" font-size="21" font-weight="bold" font-family="Liberation Sans, sans-serif" fill="#000" stroke="#000" stroke-width="0.7">Abs</text>
<line x1="408.6" y1="253.2" x2="408.6" y2="262.5" stroke="#000" stroke-width="1.3"/>
<line x1="402.6" y1="253.2" x2="414.6" y2="253.2" stroke="#000" stroke-width="1.5"/>
<line x1="402.6" y1="262.5" x2="414.6" y2="262.5" stroke="#000" stroke-width="1.5"/>
<circle cx="408.6" cy="257.8" r="4.7" fill="#000"/>
<line x1="446.2" y1="241.1" x2="446.2" y2="246.7" stroke="#000" stroke-width="1.3"/>
<line x1="440.2" y1="241.1" x2="452.2" y2="241.1" stroke="#000" stroke-width="1.5"/>
<line x1="440.2" y1="246.7" x2="452.2" y2="246.7" stroke="#000" stroke-width="1.5"/>
<circle cx="446.2" cy="244.5" r="4.7" fill="#000"/>
<line x1="484.3" y1="218.9" x2="484.3" y2="230.6" stroke="#000" stroke-width="1.3"/>
<line x1="478.3" y1="218.9" x2="490.3" y2="218.9" stroke="#000" stroke-width="1.5"/>
<line x1="478.3" y1="230.6" x2="490.3" y2="230.6" stroke="#000" stroke-width="1.5"/>
<circle cx="484.3" cy="224.4" r="4.7" fill="#000"/>
<line x1="521.8" y1="199.4" x2="521.8" y2="207.2" stroke="#000" stroke-width="1.3"/>
<line x1="515.8" y1="199.4" x2="527.8" y2="199.4" stroke="#000" stroke-width="1.5"/>
<line x1="515.8" y1="207.2" x2="527.8" y2="207.2" stroke="#000" stroke-width="1.5"/>
<circle cx="521.8" cy="203.1" r="4.7" fill="#000"/>
<line x1="559.8" y1="170.2" x2="559.8" y2="184.5" stroke="#000" stroke-width="1.3"/>
<line x1="553.8" y1="170.2" x2="565.8" y2="170.2" stroke="#000" stroke-width="1.5"/>
<line x1="553.8" y1="184.5" x2="565.8" y2="184.5" stroke="#000" stroke-width="1.5"/>
<circle cx="559.8" cy="177.5" r="4.7" fill="#000"/>
<line x1="596.8" y1="153.0" x2="596.8" y2="160.3" stroke="#000" stroke-width="1.3"/>
<line x1="590.8" y1="153.0" x2="602.8" y2="153.0" stroke="#000" stroke-width="1.5"/>
<line x1="590.8" y1="160.3" x2="602.8" y2="160.3" stroke="#000" stroke-width="1.5"/>
<circle cx="596.8" cy="156.1" r="4.7" fill="#000"/>
<line x1="633.6" y1="119.8" x2="633.6" y2="128.7" stroke="#000" stroke-width="1.3"/>
<line x1="627.6" y1="119.8" x2="639.6" y2="119.8" stroke="#000" stroke-width="1.5"/>
<line x1="627.6" y1="128.7" x2="639.6" y2="128.7" stroke="#000" stroke-width="1.5"/>
<circle cx="633.6" cy="123.7" r="4.7" fill="#000"/>
<line x1="671.3" y1="110.4" x2="671.3" y2="116.7" stroke="#000" stroke-width="1.3"/>
<line x1="665.3" y1="110.4" x2="677.3" y2="110.4" stroke="#000" stroke-width="1.5"/>
<line x1="665.3" y1="116.7" x2="677.3" y2="116.7" stroke="#000" stroke-width="1.5"/>
<circle cx="671.3" cy="113.4" r="4.7" fill="#000"/>
<line x1="710.0" y1="89.0" x2="710.0" y2="110.4" stroke="#000" stroke-width="1.3"/>
<line x1="704.0" y1="89.0" x2="716.0" y2="89.0" stroke="#000" stroke-width="1.5"/>
<line x1="704.0" y1="110.4" x2="716.0" y2="110.4" stroke="#000" stroke-width="1.5"/>
<circle cx="710.0" cy="99.6" r="4.7" fill="#000"/>
<line x1="747.5" y1="79.5" x2="747.5" y2="94.9" stroke="#000" stroke-width="1.3"/>
<line x1="741.5" y1="79.5" x2="753.5" y2="79.5" stroke="#000" stroke-width="1.5"/>
<line x1="741.5" y1="94.9" x2="753.5" y2="94.9" stroke="#000" stroke-width="1.5"/>
<circle cx="747.5" cy="87.4" r="4.7" fill="#000"/>
</svg>
</body></html>
